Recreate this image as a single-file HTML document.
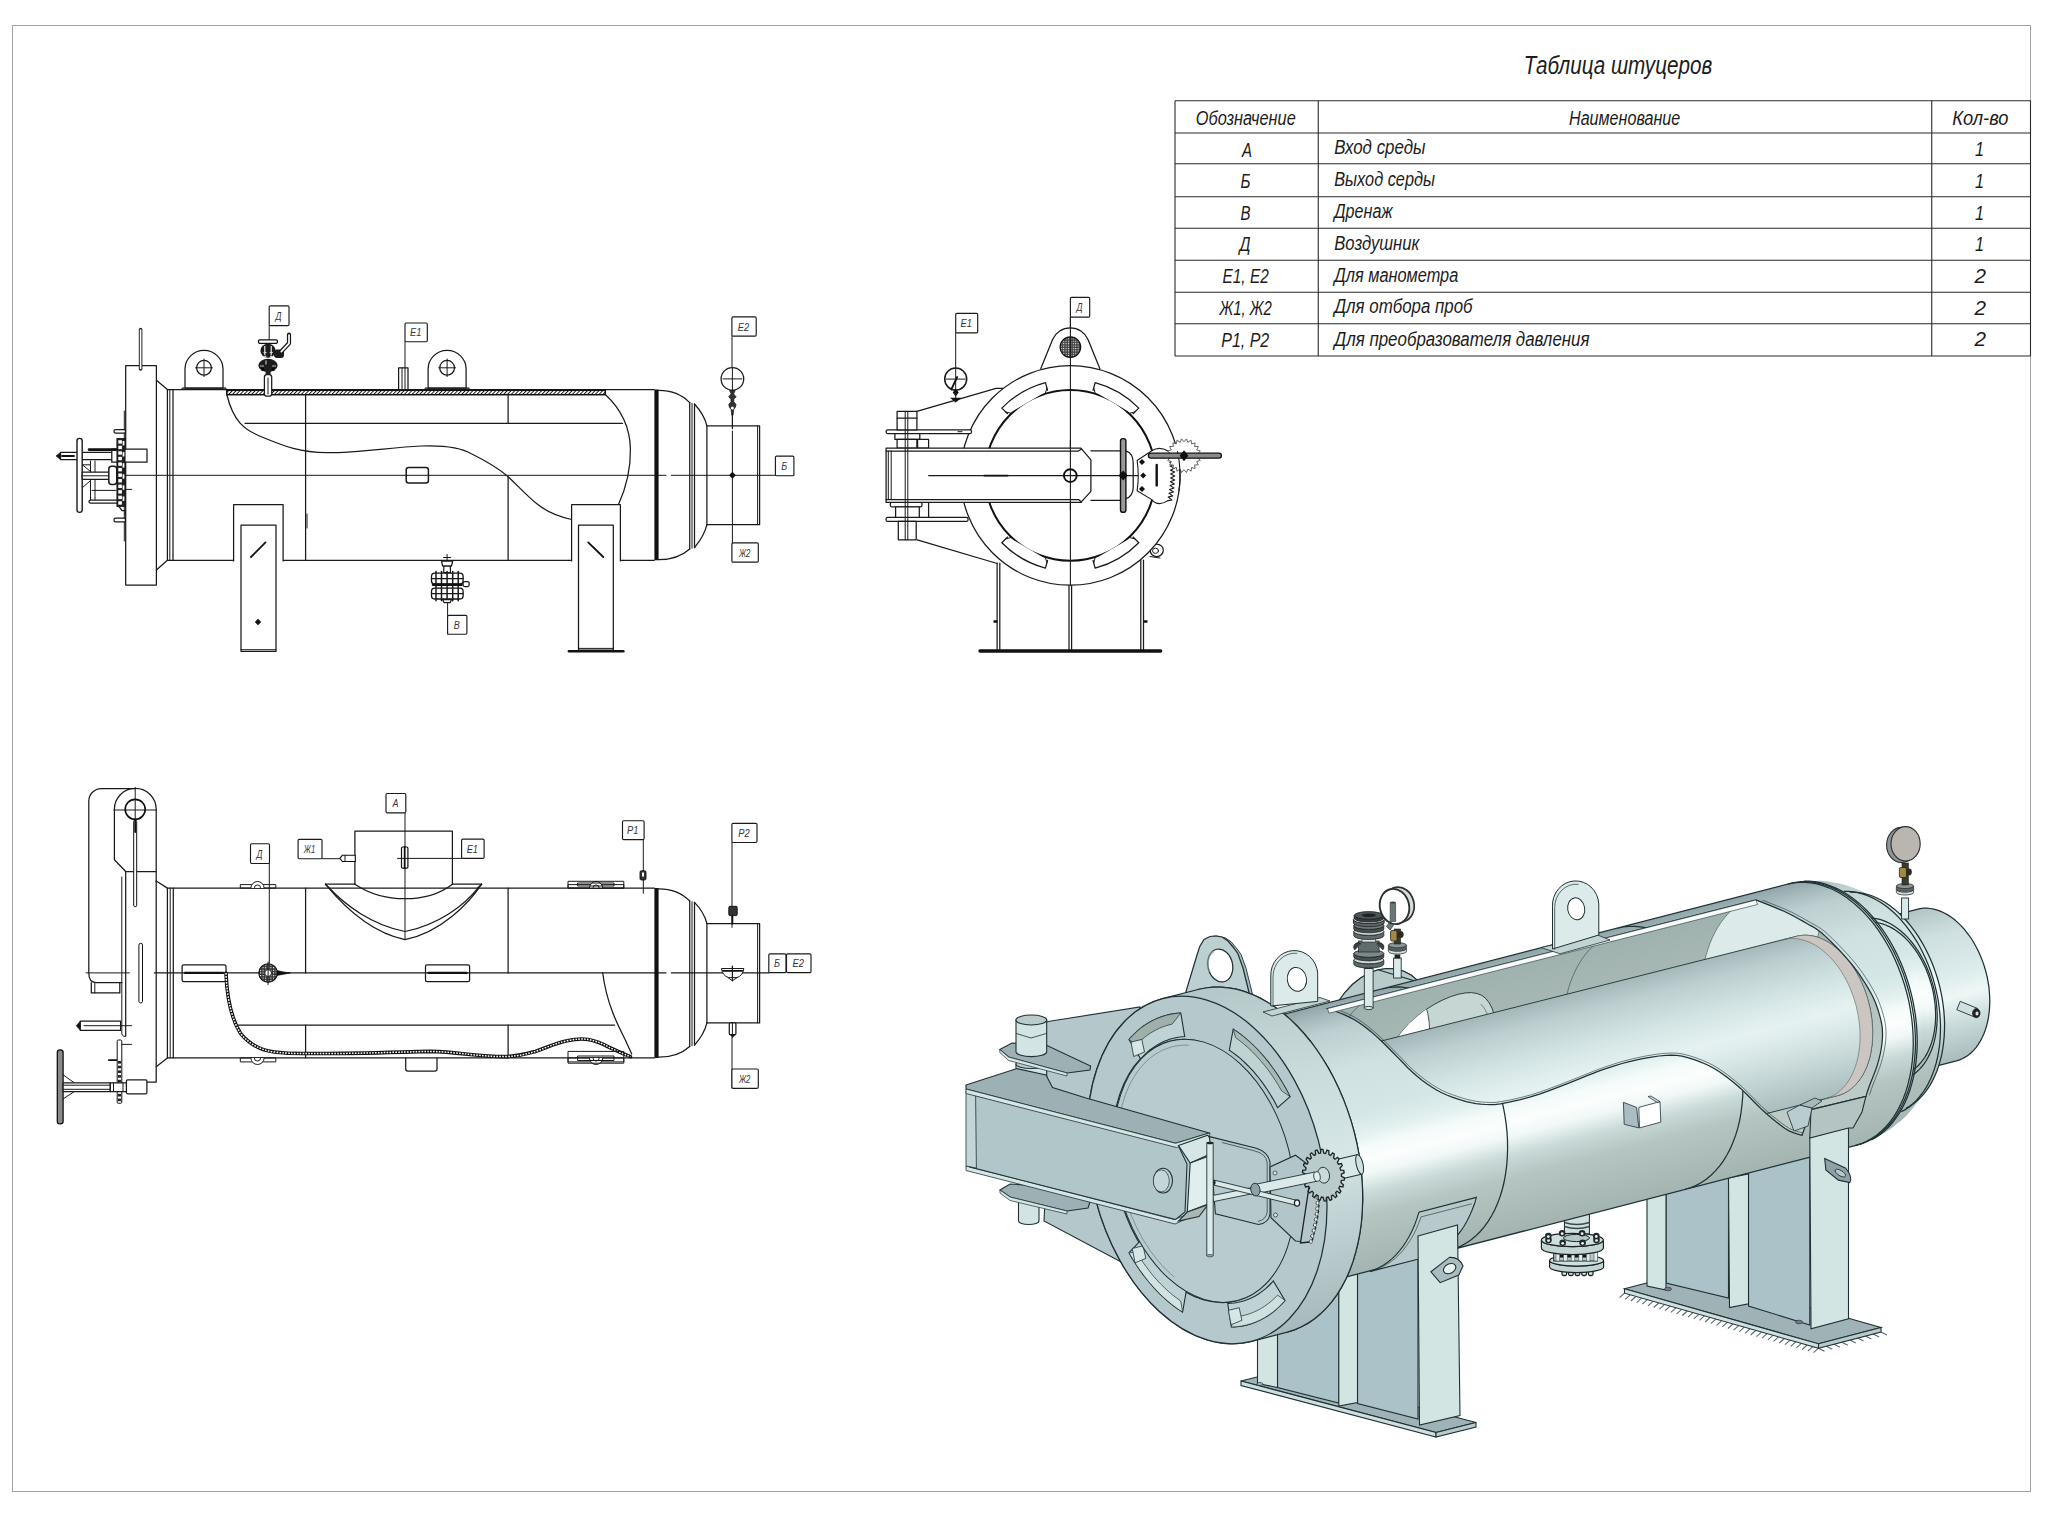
<!DOCTYPE html>
<html lang="ru"><head><meta charset="utf-8"><title>Таблица штуцеров</title>
<style>
html,body{margin:0;padding:0;background:#fff;}
body{width:2048px;height:1517px;overflow:hidden;font-family:"Liberation Sans",sans-serif;}
svg{position:absolute;left:0;top:0;display:block}
text{font-family:"Liberation Sans",sans-serif;font-style:italic;fill:#1c1c1c}
.l{fill:none;stroke:#1a1a1a;stroke-width:1.25;stroke-linecap:round;stroke-linejoin:round}
.t{fill:none;stroke:#1a1a1a;stroke-width:1.0;stroke-linecap:round;stroke-linejoin:round}
.k{fill:none;stroke:#111;stroke-width:1.8;stroke-linecap:round;stroke-linejoin:round}
.w{fill:#fff;stroke:#1a1a1a;stroke-width:1.25;stroke-linejoin:round}
.lb{fill:#fff;stroke:#1a1a1a;stroke-width:1.15}
.lt{font-size:11.8px;fill:#34343f}
</style></head><body>
<svg width="2048" height="1517" viewBox="0 0 2048 1517">
<!-- 00_frame.svg -->
<rect x="12.5" y="25.5" width="2018" height="1466" fill="none" stroke="#a3a3a3" stroke-width="1"/>
<!-- 10_table.svg -->
<g id="table">
<g fill="none" stroke="#2a2a2a" stroke-width="1.1">
<line x1="1175" y1="100.75" x2="2030.5" y2="100.75"/>
<line x1="1175" y1="133" x2="2030.5" y2="133"/>
<line x1="1175" y1="163.75" x2="2030.5" y2="163.75"/>
<line x1="1175" y1="196.75" x2="2030.5" y2="196.75"/>
<line x1="1175" y1="228.25" x2="2030.5" y2="228.25"/>
<line x1="1175" y1="260.25" x2="2030.5" y2="260.25"/>
<line x1="1175" y1="292.25" x2="2030.5" y2="292.25"/>
<line x1="1175" y1="323.75" x2="2030.5" y2="323.75"/>
<line x1="1175" y1="356" x2="2030.5" y2="356"/>
<line x1="1175" y1="100.75" x2="1175" y2="356"/>
<line x1="1318.25" y1="100.75" x2="1318.25" y2="356"/>
<line x1="1931.75" y1="100.75" x2="1931.75" y2="356"/>
<line x1="2030.5" y1="100.75" x2="2030.5" y2="356"/>
</g>
<text x="1523.75" y="73.75" font-size="25.5" textLength="188.5" lengthAdjust="spacingAndGlyphs">Таблица штуцеров</text>
<text x="1195.75" y="125.25" font-size="20" textLength="100" lengthAdjust="spacingAndGlyphs">Обозначение</text>
<text x="1569" y="125.25" font-size="20" textLength="111.25" lengthAdjust="spacingAndGlyphs">Наименование</text>
<text x="1952.25" y="125.25" font-size="20" textLength="56.25" lengthAdjust="spacingAndGlyphs">Кол-во</text>
<text x="1242" y="156.75" font-size="20" textLength="10" lengthAdjust="spacingAndGlyphs">А</text>
<text x="1240.5" y="188.25" font-size="20" textLength="10" lengthAdjust="spacingAndGlyphs">Б</text>
<text x="1240.5" y="220" font-size="20" textLength="10" lengthAdjust="spacingAndGlyphs">В</text>
<text x="1239.5" y="251" font-size="20" textLength="11" lengthAdjust="spacingAndGlyphs">Д</text>
<text x="1222.5" y="283" font-size="20" textLength="46.25" lengthAdjust="spacingAndGlyphs">Е1, Е2</text>
<text x="1219.5" y="315" font-size="20" textLength="52.25" lengthAdjust="spacingAndGlyphs">Ж1, Ж2</text>
<text x="1221.25" y="346.5" font-size="20" textLength="48" lengthAdjust="spacingAndGlyphs">Р1, Р2</text>
<text x="1334.25" y="154.25" font-size="20" textLength="91.25" lengthAdjust="spacingAndGlyphs">Вход среды</text>
<text x="1334.25" y="185.75" font-size="20" textLength="100.75" lengthAdjust="spacingAndGlyphs">Выход серды</text>
<text x="1334.25" y="218" font-size="20" textLength="58.25" lengthAdjust="spacingAndGlyphs">Дренаж</text>
<text x="1334.25" y="249.5" font-size="20" textLength="85" lengthAdjust="spacingAndGlyphs">Воздушник</text>
<text x="1334.25" y="281.75" font-size="20" textLength="124" lengthAdjust="spacingAndGlyphs">Для манометра</text>
<text x="1334.25" y="313.25" font-size="20" textLength="138.25" lengthAdjust="spacingAndGlyphs">Для отбора проб</text>
<text x="1334.25" y="345.75" font-size="20" textLength="255.25" lengthAdjust="spacingAndGlyphs">Для преобразователя давления</text>
<text x="1975" y="156.25" font-size="20" textLength="9" lengthAdjust="spacingAndGlyphs">1</text>
<text x="1975" y="188" font-size="20" textLength="9" lengthAdjust="spacingAndGlyphs">1</text>
<text x="1975" y="219.75" font-size="20" textLength="9" lengthAdjust="spacingAndGlyphs">1</text>
<text x="1975" y="251.25" font-size="20" textLength="9" lengthAdjust="spacingAndGlyphs">1</text>
<text x="1974.5" y="283" font-size="20" textLength="11.5" lengthAdjust="spacingAndGlyphs">2</text>
<text x="1974.5" y="314.75" font-size="20" textLength="11.5" lengthAdjust="spacingAndGlyphs">2</text>
<text x="1974.5" y="346.25" font-size="20" textLength="11.5" lengthAdjust="spacingAndGlyphs">2</text>
</g>
<!-- 20_front.svg -->
<g id="front">
<path class="t" d="M79 475.3 L666 475.3"/>
<path class="t" d="M671.4 475.3 L794 475.3"/>
<rect class="l" x="125.7" y="365.7" width="30.7" height="219.4" rx="0"/>
<path class="l" style="stroke-width:3.6;stroke:#222" d="M140.6 329.5 L140.6 369"/>
<path class="l" style="stroke-width:1.6;stroke:#fff" d="M140.6 330 L140.6 368.5"/>
<path class="l" d="M156.4 380.3 L167.4 389.6 L654.3 389.6"/>
<path class="l" d="M156.4 570 L167.4 560.3 L654.3 560.3"/>
<path class="l" d="M167.4 389.6 L167.4 560.3"/>
<path class="t" d="M169.8 389.6 L169.8 560.3"/>
<path class="l" d="M173 389.6 L173 560.3"/>
<path class="w" d="M185 388 V369 A19 18.6 0 0 1 223 369 V388 Z"/>
<path class="l" d="M182.5 388 L225.5 388"/>
<path class="t" d="M182.5 388 L181 389.6"/>
<path class="t" d="M225.5 388 L227 389.6"/>
<circle class="l" cx="204" cy="367.8" r="7.4"/>
<path class="t" d="M195.5 367.8 L212.5 367.8"/>
<path class="t" d="M204 359 L204 376.6"/>
<path class="w" d="M428.1 388 V369 A19 18.6 0 0 1 466.1 369 V388 Z"/>
<path class="l" d="M425.6 388 L468.6 388"/>
<path class="t" d="M425.6 388 L424.1 389.6"/>
<path class="t" d="M468.6 388 L470.1 389.6"/>
<circle class="l" cx="447.1" cy="367.8" r="7.4"/>
<path class="t" d="M438.6 367.8 L455.6 367.8"/>
<path class="t" d="M447.1 359 L447.1 376.6"/>
<defs><pattern id="hx" width="2.7" height="2.7" patternUnits="userSpaceOnUse" patternTransform="rotate(45)"><rect width="3" height="3" fill="#fff"/><line x1="0" y1="0" x2="0" y2="3" stroke="#111" stroke-width="1.9"/></pattern></defs>
<rect x="226.8" y="390.3" width="378.5" height="4.4" fill="url(#hx)" stroke="#111" stroke-width="1.5"/>
<path class="l" d="M226.8 394.5 C233 420 243 430 264.4 438 C285 446.5 300 452.5 327 452.7 C360 452.7 390 447.5 420.6 446 C445 445 460 447 471.4 453.8 C488 462 498 468 508.5 477 C520 488 528 497 537.8 504.6 C548 512.5 560 517 571.6 519.5"/>
<path class="l" d="M605.3 394.5 C622 410 630 428 630.4 448.8 C630.8 470 626 488 618.5 504.5"/>
<path class="l" d="M245 423.3 L622.5 423.3"/>
<path class="l" d="M305.6 394.5 L305.6 560.3"/>
<path class="l" d="M508.1 394.5 L508.1 423.3"/>
<path class="l" d="M508.1 477 L508.1 560.3"/>
<path class="t" d="M307 514 L307 528"/>
<path class="k" style="stroke-width:4.2;stroke-linecap:butt" d="M656.5 389.6 L656.5 560.3"/>
<path class="l" d="M658.6 390.3 C672 390.3 682 394.5 689.7 402.6 M658.6 559.7 C672 559.7 682 556 689.7 549"/>
<path class="l" d="M689.7 402.6 L689.7 549"/>
<path class="t" d="M692 403.4 L692 548.2"/>
<path class="l" d="M694.5 404 L694.5 547.6"/>
<path class="l" d="M694.5 404 C700 410 705 418 706.9 425.8 M694.5 547.6 C700 541 705 533 706.9 524.7"/>
<path class="l" d="M706.9 425.8 L706.9 524.7"/>
<path class="l" d="M706.9 425.8 L759.6 425.8 L759.6 524.7 L706.9 524.7"/>
<path class="t" d="M757.6 425.8 L757.6 524.7"/>
<path class="w" d="M233.6 561.6 V504.7 H283.1 V561.6"/>
<rect class="w" x="241" y="525.2" width="35" height="126.1"/>
<path class="t" d="M241 649.7 L276 649.7"/>
<path class="k" d="M251 557 L265.5 542.4"/>
<path class="w" d="M571.6 561.6 V504.7 H620.4 V561.6"/>
<rect class="w" x="578.5" y="525.2" width="34.8" height="124.8"/>
<path class="t" d="M578.5 648.4 L613.3 648.4"/>
<path class="k" d="M588.2 542.4 L603.3 557"/>
<path d="M258 618.8 l3.2 3.2 l-3.2 3.2 l-3.2 -3.2z" fill="#111"/>
<path class="k" style="stroke-width:2.6" d="M569 651.3 L623.3 651.3"/>
<rect class="l" style="stroke-width:1.5" x="406.2" y="467.5" width="22.2" height="15.6" rx="2.5"/>
<rect class="w" x="398.6" y="367.9" width="9.4" height="21.7" rx="0"/>
<path class="t" d="M402 368 L402 389.6"/>
<path class="t" d="M405 341.7 L405 389"/>
<rect class="lb" x="405" y="323" width="22.3" height="18.7" rx="1.2"/><text class="lt" x="409.95" y="336.35" textLength="11.4" lengthAdjust="spacingAndGlyphs">Е1</text>
<path class="t" d="M269.2 325.6 L269.2 340"/>
<rect class="lb" x="269.2" y="305.9" width="19.8" height="19.7" rx="1.2"/><text class="lt" x="275.6" y="319.75" textLength="6" lengthAdjust="spacingAndGlyphs">Д</text>
<rect class="w" x="264.4" y="374.7" width="7.3" height="21.5" rx="2.5"/>
<path class="t" d="M268 378 L268 394"/>
<rect x="258.5" y="339.9" width="18.9" height="3.4" rx="1.2" fill="#fff" stroke="#111" stroke-width="1.3"/>
<ellipse cx="268" cy="350.8" rx="7.6" ry="7" fill="#1c1c1c"/>
<rect x="274" y="349.5" width="10" height="8.4" rx="3" fill="#1c1c1c"/>
<path d="M264.8 346 v9 M271.2 346 v9" stroke="#fff" stroke-width="1.1" fill="none"/>
<path d="M263.5 352.5 h3 M269.7 352.5 h3 M264.3 356.3 h2 M270 356.3 h2" stroke="#ddd" stroke-width="1.2" fill="none"/>
<ellipse cx="268" cy="365.4" rx="9.6" ry="6.6" fill="#1c1c1c"/>
<path d="M266 360.5 v4 M260 366 h4 M272 366 h4" stroke="#bbb" stroke-width="1.2" fill="none"/>
<circle cx="262.6" cy="369.3" r="1.6" fill="#000"/><circle cx="273.4" cy="369.3" r="1.6" fill="#000"/>
<rect x="265.6" y="371" width="5" height="4" fill="#222"/>
<path class="l" style="stroke-width:4.2;stroke:#1a1a1a" d="M281.1 351.8 L289 343.3 L289 334.6"/>
<path class="l" style="stroke:#fff;stroke-width:1.7" d="M281.3 351.6 L289 343.3 L289 335"/>
<path class="t" d="M732 336.2 L732 367.5"/>
<rect class="lb" x="731.9" y="316.9" width="24.3" height="19.3" rx="1.2"/><text class="lt" x="737.85" y="330.55" textLength="11.4" lengthAdjust="spacingAndGlyphs">Е2</text>
<circle class="w" cx="732.4" cy="378.9" r="11.3"/>
<path class="t" d="M723 378.9 L742 378.9"/>
<path class="t" d="M732.4 368 L732.4 390"/>
<path d="M729.6 390.5 h5.6 l-1.6 3.4 l2.6 3 l-2.4 2 v3 l2.2 2.4 q0 3.4 -2.2 5 l-0.8 6 h-1.2 l-0.8 -6 q-2.2 -1.6 -2.2 -5 l2.2 -2.4 v-3 l-2.4 -2 l2.6 -3z" fill="#333" stroke="#111" stroke-width="0.7"/>
<circle cx="732.4" cy="408" r="1.5" fill="#fff"/>
<path class="l" d="M732.4 414 L732.4 428.5"/>
<path class="t" d="M732.4 431 L732.4 562"/>
<path d="M732.4 471.8 l3.4 3.5 l-3.4 3.5 l-3.4 -3.5z" fill="#111"/>
<rect class="lb" x="731.9" y="542.9" width="26.4" height="19.2" rx="1.2"/><text class="lt" x="738.9" y="556.5" textLength="11.4" lengthAdjust="spacingAndGlyphs">Ж2</text>
<rect class="lb" x="775.4" y="456.1" width="18.5" height="19.6" rx="1.2"/><text class="lt" x="781.15" y="469.9" textLength="6" lengthAdjust="spacingAndGlyphs">Б</text>
<path class="t" d="M447.1 554.4 L447.1 563"/>
<path class="t" d="M443.5 557.5 L450.7 557.5"/>
<path class="w" d="M441.5 561 H452.7 L451.5 566 H442.7Z"/>
<rect class="w" x="443.8" y="566" width="6.6" height="6.5" rx="0"/>
<rect x="431.5" y="573.2" width="31.6" height="10.8" rx="3.2" fill="#fff" stroke="#111" stroke-width="1.3"/>
<rect x="431.5" y="588.2" width="31.6" height="10.8" rx="3.2" fill="#fff" stroke="#111" stroke-width="1.3"/>
<path class="l" style="stroke-width:1.5" d="M436 571.5 L436 600.8"/>
<path class="l" style="stroke-width:1.5" d="M441.5 571.5 L441.5 600.8"/>
<path class="l" style="stroke-width:1.5" d="M447.1 571.5 L447.1 600.8"/>
<path class="l" style="stroke-width:1.5" d="M452.7 571.5 L452.7 600.8"/>
<path class="l" style="stroke-width:1.5" d="M458.2 571.5 L458.2 600.8"/>
<path class="l" d="M431.5 578.6 L463.1 578.6"/>
<path class="l" d="M431.5 593.6 L463.1 593.6"/>
<path class="k" style="stroke-width:2.4" d="M433 584.8 L461.6 584.8"/>
<rect class="w" x="463.1" y="581.5" width="6" height="5" rx="1.5"/>
<path class="w" d="M442.6 599.5 h9 l-1.5 3.2 h-6z"/>
<path class="t" d="M447.6 602.5 L447.6 634.2"/>
<rect class="lb" x="447.6" y="615.4" width="19.3" height="18.8" rx="1.2"/><text class="lt" x="453.75" y="628.8" textLength="6" lengthAdjust="spacingAndGlyphs">В</text>
<path class="t" d="M124.3 411 L124.3 541"/>
<rect class="w" x="114" y="429.6" width="11.5" height="3.6" rx="1.6"/>
<rect class="w" x="114" y="518.2" width="11.5" height="3.6" rx="1.6"/>
<path d="M56.1 455.9 L60.5 452.5 V459.5 Z" fill="#111" stroke="#111" stroke-width="0.8"/>
<rect class="w" x="60.5" y="452.4" width="52" height="7.2"/>
<rect class="w" x="111.8" y="449.2" width="35.2" height="13"/>
<path class="k" style="stroke-width:2.6" d="M89 449.6 L116 449.6"/>
<path class="k" d="M62 456 L74 456"/>
<rect class="w" x="77" y="438.4" width="5.2" height="74" rx="2.6" style="stroke-width:1.4"/>
<rect class="w" x="82.2" y="472.2" width="27" height="7.2"/>
<path class="t" d="M82.2 475.8 L109 475.8"/>
<rect class="w" x="108.8" y="466.3" width="8" height="18.3" rx="3" style="stroke-width:1.5"/>
<path class="t" d="M82.5 464.8 L90.5 471.6 L90.5 464.8 L82.5 464.8"/>
<path class="t" d="M82.5 487.5 L90.5 480.6"/>
<path class="t" d="M90.5 461 L90.5 472"/>
<path class="t" d="M95 461 L95 472"/>
<path class="t" d="M90.5 479.6 L90.5 501"/>
<path class="t" d="M95 479.6 L95 501"/>
<path class="t" d="M92 490.4 L116 490.4"/>
<rect class="w" x="89" y="500" width="30" height="3" rx="1.4"/>
<path class="t" d="M126.4 489.4 L131.5 489.4"/>
<rect x="116.9" y="438.4" width="8.2" height="68" fill="#222" stroke="#111" stroke-width="0.8"/>
<rect x="118.3" y="440.2" width="3.6" height="3.4" fill="#fff"/>
<rect x="122.6" y="441" width="1.8" height="4.4" fill="#fff"/>
<rect x="118.3" y="445.75" width="3.6" height="3.4" fill="#fff"/>
<rect x="118.3" y="451.3" width="3.6" height="3.4" fill="#fff"/>
<rect x="122.6" y="452.1" width="1.8" height="4.4" fill="#fff"/>
<rect x="118.3" y="456.85" width="3.6" height="3.4" fill="#fff"/>
<rect x="118.3" y="462.4" width="3.6" height="3.4" fill="#fff"/>
<rect x="122.6" y="463.2" width="1.8" height="4.4" fill="#fff"/>
<rect x="118.3" y="467.95" width="3.6" height="3.4" fill="#fff"/>
<rect x="118.3" y="473.5" width="3.6" height="3.4" fill="#fff"/>
<rect x="122.6" y="474.3" width="1.8" height="4.4" fill="#fff"/>
<rect x="118.3" y="479.05" width="3.6" height="3.4" fill="#fff"/>
<rect x="118.3" y="484.6" width="3.6" height="3.4" fill="#fff"/>
<rect x="122.6" y="485.4" width="1.8" height="4.4" fill="#fff"/>
<rect x="118.3" y="490.15" width="3.6" height="3.4" fill="#fff"/>
<rect x="118.3" y="495.7" width="3.6" height="3.4" fill="#fff"/>
<rect x="122.6" y="496.5" width="1.8" height="4.4" fill="#fff"/>
<rect x="118.3" y="501.25" width="3.6" height="3.4" fill="#fff"/>
<path class="l" d="M119 506.5 l3 4 h3.2 v4"/>
</g>
<!-- 30_side.svg -->
<g id="side">
<path class="l" d="M997.1 563 L997.1 649.3"/>
<path class="l" d="M999.8 563 L999.8 649.3"/>
<path class="l" d="M1069 585 L1069 649.3"/>
<path class="l" d="M1071.6 585 L1071.6 649.3"/>
<path class="l" d="M1140.8 560 L1140.8 649.3"/>
<path class="l" d="M1143.5 560 L1143.5 649.3"/>
<path class="k" style="stroke-width:3.4" d="M980 651 L1160.6 651"/>
<path d="M993.5 621.5 h4 M1143.5 621.5 h4" stroke="#111" stroke-width="2.6" fill="none"/>
<path class="l" d="M916.9 411.3 L996 388.4 L1003 388.4"/>
<path class="l" d="M917.2 539.8 L997.2 563.5"/>
<ellipse class="w" cx="1156.7" cy="550.3" rx="6.6" ry="6.2"/><ellipse class="t" cx="1155.5" cy="550.8" rx="3" ry="2.6"/>
<path class="t" d="M1150 556.5 L1160 558"/>
<path class="w" d="M1040.6 369.1 L1052.6 339.5 A19.3 19.3 0 0 1 1088 339.5 L1100 369.1"/>
<defs><pattern id="hx2" width="2.4" height="2.4" patternUnits="userSpaceOnUse"><rect width="2.4" height="2.4" fill="#444"/><rect width="1" height="1" fill="#fff"/></pattern></defs>
<circle cx="1070.4" cy="347.1" r="10.3" fill="url(#hx2)" stroke="#111" stroke-width="1.2"/>
<circle class="w" cx="1070.3" cy="475.4" r="109.8"/>
<circle class="k" cx="1070.3" cy="475.4" r="85.4" style="stroke-width:2"/>
<path class="w" d="M1132.78 414 L1138.77 408.113 A96 96 0 0 0 1095.15 382.671 L1092.97 390.785" style="stroke-linejoin:round"/>
<path class="t" d="M1134.85 411.968 L1129.72 413.225"/>
<path class="t" d="M1093.72 387.984 L1095.16 393.071"/>
<path class="w" d="M1047.63 390.785 L1045.45 382.671 A96 96 0 0 0 1001.83 408.113 L1007.82 414" style="stroke-linejoin:round"/>
<path class="t" d="M1046.88 387.984 L1045.44 393.071"/>
<path class="t" d="M1005.75 411.968 L1010.88 413.225"/>
<path class="w" d="M1007.82 536.8 L1001.83 542.687 A96 96 0 0 0 1045.45 568.129 L1047.63 560.015" style="stroke-linejoin:round"/>
<path class="t" d="M1005.75 538.832 L1010.88 537.575"/>
<path class="t" d="M1046.88 562.816 L1045.44 557.729"/>
<path class="w" d="M1092.97 560.015 L1095.15 568.129 A96 96 0 0 0 1138.77 542.687 L1132.78 536.8" style="stroke-linejoin:round"/>
<path class="t" d="M1093.72 562.816 L1095.16 557.729"/>
<path class="t" d="M1134.85 538.832 L1129.72 537.575"/>
<path class="l" style="stroke-width:1.1" d="M1070.4 317 L1070.4 585"/>
<rect class="w" x="886.1" y="429.9" width="85.4" height="3.6" rx="1.5"/>
<path class="t" d="M958 431.7 L962 431.7"/>
<rect class="w" x="886.1" y="517.4" width="81.9" height="4" rx="1.5"/>
<rect class="w" x="897.1" y="411.3" width="19.8" height="18.6" rx="0"/>
<path class="l" d="M897.1 418.2 L916.9 418.2"/>
<rect class="w" x="894.9" y="433.5" width="24.9" height="5.9" rx="0"/>
<rect class="w" x="897.1" y="439.4" width="19.8" height="8.8" rx="0"/>
<rect class="w" x="917.6" y="439.4" width="11" height="8.8" rx="0"/>
<rect class="w" x="890.3" y="502.4" width="31.7" height="4.4" rx="1.5"/>
<rect class="w" x="895.6" y="506.8" width="23.7" height="10.6" rx="0"/>
<rect class="w" x="898.3" y="521.4" width="17.9" height="18.4" rx="0"/>
<path class="l" d="M928.6 503 L928.6 517.4"/>
<path class="w" d="M886.1 448.2 H1080.9 L1090.9 459.9 V491.4 L1080.9 502.4 H886.1 Z"/>
<path class="l" d="M886.1 451.1 L1078.5 451.1 L1081.5 449"/>
<path class="l" d="M886.1 499.5 L1078.5 499.5 L1081.5 502"/>
<path class="t" d="M888.3 451.1 L888.3 499.5"/>
<path class="t" d="M891.2 451.1 L891.2 499.5"/>
<path class="t" d="M905.2 411.3 L905.2 539.8"/>
<path class="t" d="M907.8 411.3 L907.8 539.8"/>
<path class="l" style="stroke-width:1.1" d="M1070.4 440 L1070.4 510"/>
<path class="l" style="stroke-width:1.1" d="M928.6 475.6 L1156 475.6"/>
<path class="k" d="M984.3 475.6 L1007.7 475.6"/>
<circle class="k" cx="1070.3" cy="475.6" r="6.4" style="stroke-width:1.9"/>
<path class="l" d="M1090.9 450.8 L1120.5 450.8"/>
<path class="l" d="M1090.9 500.3 L1120.5 500.3"/>
<path class="l" d="M1125.9 450.8 C1131 452.5 1133.2 458 1133.2 463 V487 C1133.2 492 1131 497 1125.9 498.6"/>
<rect x="1120.5" y="438.6" width="5.4" height="73.7" rx="2.4" fill="#999" stroke="#111" stroke-width="1.4"/>
<path d="M1123.2 470.6 l4.6 5 l-4.6 5 l-4.6 -5z" fill="#111"/>
<path class="w" d="M1137.1 460.5 L1151.8 450.8 Q1160 445.5 1169.4 451.8 L1169.2 458.7 L1173.6 459.9 L1169.8 462.5 L1174.1 463.9 L1170.2 466.3 L1174.5 467.9 L1170.5 470.2 L1174.7 471.9 L1170.6 474.1 L1174.8 475.9 L1170.6 477.9 L1174.7 480.0 L1170.4 481.8 L1174.4 484.0 L1170.1 485.6 L1174.0 488.0 L1169.6 489.5 L1173.5 492.0 L1169.0 493.3 L1172.7 495.9 L1168.2 497.1 L1171.9 499.9 L1167.3 500.9 Q1158 507 1151.8 499.6 L1137.1 490.8 Q1139.4 475.6 1137.1 460.5 Z" style="stroke-width:1.1"/>
<path d="M1142 459 l3 3 l-3 3 l-3 -3z" fill="#111"/>
<path d="M1143.2 472.6 l3 3 l-3 3 l-3 -3z" fill="#111"/>
<path d="M1142 485.9 l3 3 l-3 3 l-3 -3z" fill="#111"/>
<path class="k" style="stroke-width:2.4" d="M1156.7 465 L1156.7 485.4"/>
<path d="M1201.0 455.7 L1197.9 457.7 L1200.3 460.5 L1196.7 461.5 L1198.3 464.9 L1194.6 464.9 L1195.1 468.5 L1191.6 467.5 L1191.1 471.2 L1187.9 469.1 L1186.4 472.5 L1184.0 469.7 L1181.6 472.5 L1180.1 469.1 L1176.9 471.2 L1176.4 467.5 L1172.9 468.5 L1173.4 464.9 L1169.7 464.9 L1171.3 461.5 L1167.7 460.5 L1170.1 457.7 L1167.0 455.7 L1170.1 453.7 L1167.7 450.9 L1171.3 449.9 L1169.7 446.5 L1173.4 446.5 L1172.9 442.9 L1176.4 443.9 L1176.9 440.2 L1180.1 442.3 L1181.6 438.9 L1184.0 441.7 L1186.4 438.9 L1187.9 442.3 L1191.1 440.2 L1191.6 443.9 L1195.1 442.9 L1194.6 446.5 L1198.3 446.5 L1196.7 449.9 L1200.3 450.9 L1197.9 453.7 Z" fill="#fff" stroke="#555" stroke-width="0.9" stroke-linejoin="round"/>
<path class="l" d="M1177.5 451.635 A109.8 109.8 0 0 1 1179.03 490.681" style="stroke-width:1.1"/>
<rect x="1148.4" y="453.2" width="73" height="5" rx="2.4" fill="#8a8a8a" stroke="#111" stroke-width="1.3"/>
<path d="M1184 450.2 l4.4 5.5 l-4.4 5.5 l-4.4 -5.5z" fill="#111"/>
<path class="t" d="M955.7 332.9 L955.7 401"/>
<rect class="lb" x="955.7" y="313.4" width="22" height="19.5" rx="1.2"/><text class="lt" x="960.5" y="327.15" textLength="11.4" lengthAdjust="spacingAndGlyphs">Е1</text>
<circle class="l" cx="955.7" cy="379.1" r="11" style="stroke-width:1.5"/>
<path class="t" d="M946 379.1 L965.4 379.1"/>
<path class="k" d="M951.3 389.5 L957.2 377"/>
<path d="M955.7 388.5 l3 4 l-3 4 l-3 -4z M950 397.8 h11.4 l-5.7 4.8z" fill="#111"/>
<path class="t" d="M1070.4 317 L1070.4 328"/>
<rect class="lb" x="1070.4" y="297.3" width="19.3" height="19.8" rx="1.2"/><text class="lt" x="1076.55" y="311.2" textLength="6" lengthAdjust="spacingAndGlyphs">Д</text>
</g>
<!-- 40_plan.svg -->
<g id="plan">
<path class="t" d="M86.1 972.9 L129.4 972.9"/>
<path class="l" style="stroke-width:1.1" d="M154.3 972.9 L666 972.9"/>
<path class="l" style="stroke-width:1.1" d="M671.4 972.9 L769 972.9"/>
<path class="l" d="M135.2 788.6 H101.3 A12.5 12.5 0 0 0 88.8 801.1 V973 Q88.8 982.5 96 982.5 H122"/>
<path class="l" d="M91.3 982.5 L91.3 992.9 L119.8 992.9 L119.8 982.5"/>
<path class="t" d="M94.8 982.5 L94.8 992.9"/>
<path class="l" d="M114.4 809.3 A20.9 20.9 0 0 1 156.2 809.3 V881 M114.4 809.3 V859.8 L125.7 871.5 H155.7"/>
<path class="t" d="M114 810 L156.6 810"/>
<path class="t" d="M135.2 787.5 L135.2 822"/>
<circle class="k" cx="135.2" cy="809.3" r="10" style="stroke-width:1.7"/>
<rect x="133.7" y="820" width="3" height="86.7" rx="1.5" fill="#fff" stroke="#111" stroke-width="1"/>
<path class="k" d="M135.2 820 L135.2 832"/>
<rect x="138.9" y="943.3" width="3.6" height="59.7" rx="1.8" fill="#fff" stroke="#111" stroke-width="1"/>
<path class="l" d="M125.7 871.5 L125.7 1036"/>
<path class="t" d="M121.8 877 L121.8 1034 L123.7 1036.5 L125.7 1036"/>
<path class="l" d="M156.2 881 L156.2 1082.1 L146.9 1082.1"/>
<path class="l" d="M156.2 881 L167.4 888.1 L654.3 888.1"/>
<path class="l" d="M156.2 1066.7 L167.4 1057.9 L654.3 1057.9"/>
<path class="l" d="M167.4 888.1 L167.4 1057.9"/>
<path class="t" d="M170.2 888.1 L170.2 1057.9"/>
<path class="l" d="M173.3 888.1 L173.3 1057.9"/>
<path d="M76.3 1025.7 L80.3 1021.3 V1030.1 Z" fill="#111" stroke="#111" stroke-width="0.8"/>
<rect class="w" x="80.3" y="1021" width="40.3" height="9.4" rx="0"/>
<path class="t" d="M84 1025.7 L131.5 1025.7"/>
<path class="t" d="M121.3 1044.4 L131.5 1044.4"/>
<path class="k" d="M108.8 1060.1 L119.1 1060.1"/>
<rect x="117.2" y="1040" width="4.6" height="63.3" rx="1.2" fill="#fff" stroke="#111" stroke-width="1"/>
<rect x="118" y="1061" width="3" height="2.6" fill="#222"/>
<rect x="118" y="1065.7" width="3" height="2.6" fill="#222"/>
<rect x="118" y="1070.4" width="3" height="2.6" fill="#222"/>
<rect x="118" y="1075.1" width="3" height="2.6" fill="#222"/>
<rect x="118" y="1079.8" width="3" height="2.6" fill="#222"/>
<rect x="118" y="1084.5" width="3" height="2.6" fill="#222"/>
<rect x="118" y="1089.2" width="3" height="2.6" fill="#222"/>
<rect x="118" y="1093.9" width="3" height="2.6" fill="#222"/>
<rect x="118" y="1098.6" width="3" height="2.6" fill="#222"/>
<rect class="w" x="126.4" y="1079.9" width="20.5" height="13.9" rx="1.2"/>
<rect x="57.3" y="1049.9" width="5.8" height="73.9" rx="2.6" fill="#8a8a8a" stroke="#111" stroke-width="1.3"/>
<path class="t" d="M63.1 1074.8 L73.7 1082.4"/>
<path class="t" d="M63.1 1098.9 L73.7 1092"/>
<rect class="w" x="63.1" y="1082.8" width="47.2" height="8.8" rx="0"/>
<path class="t" d="M63.1 1085.2 L110.3 1085.2"/>
<path class="t" d="M63.1 1089.3 L110.3 1089.3"/>
<rect class="w" x="110.3" y="1082.8" width="16.1" height="8.8" rx="0"/>
<path class="t" d="M113.5 1082.8 L113.5 1091.6"/>
<path class="t" d="M123 1082.8 L123 1091.6"/>
<rect class="l" x="182.1" y="964.9" width="43.9" height="16.8" rx="1.6"/>
<path class="k" style="stroke-width:2.2" d="M185.1 972.9 L223 972.9"/>
<rect class="l" x="425.5" y="964.9" width="44.1" height="16.8" rx="1.6"/>
<path class="k" style="stroke-width:2.2" d="M428.5 972.9 L466.6 972.9"/>
<path class="l" d="M305.6 888.1 L305.6 972.9"/>
<path class="l" d="M305.6 1025 L305.6 1057.9"/>
<path class="l" d="M508.1 888.1 L508.1 972.9"/>
<path class="l" d="M508.1 1025 L508.1 1057.9"/>
<path class="l" d="M236.3 1025 L614.6 1025"/>
<path d="M226 973 C227 1000 232 1020 240.7 1033.7 C250 1045 262 1050.5 274.4 1052 C290 1053.8 300 1053.5 305.6 1053.5 C350 1054 400 1052 430 1051.4 C460 1052 480 1057 506.5 1056.6 C520 1056 528 1053.5 535.5 1051.4 C548 1047 556 1043 567.1 1040.8 C575 1039 582 1038.6 588.2 1039.5 C597 1041 603 1044 609.3 1047.4 C617 1051 624 1054.5 630.4 1056.6" fill="none" stroke="#111" stroke-width="3.6" stroke-linecap="round"/>
<path d="M226 973 C227 1000 232 1020 240.7 1033.7 C250 1045 262 1050.5 274.4 1052 C290 1053.8 300 1053.5 305.6 1053.5 C350 1054 400 1052 430 1051.4 C460 1052 480 1057 506.5 1056.6 C520 1056 528 1053.5 535.5 1051.4 C548 1047 556 1043 567.1 1040.8 C575 1039 582 1038.6 588.2 1039.5 C597 1041 603 1044 609.3 1047.4 C617 1051 624 1054.5 630.4 1056.6" fill="none" stroke="#fff" stroke-width="1.5" stroke-dasharray="1.6 1.3"/>
<path class="l" d="M602.7 973 C605 990 608 1000 612 1010.5 C616 1022 621 1031 625.1 1039.5 C628 1046 630 1050 631.7 1054"/>
<path class="k" style="stroke-width:4.2;stroke-linecap:butt" d="M656.5 888.1 L656.5 1057.9"/>
<path class="l" d="M658.6 888.8 C672 888.8 682 893 689.7 901 M658.6 1057.2 C672 1057.2 682 1053.5 689.7 1046.5"/>
<path class="l" d="M689.7 901 L689.7 1046.5"/>
<path class="t" d="M692 901.8 L692 1045.7"/>
<path class="l" d="M694.5 902.4 L694.5 1045.1"/>
<path class="l" d="M694.5 902.4 C700 908 705 916 706.9 923.5 M694.5 1045.1 C700 1039 705 1031 706.9 1022.9"/>
<path class="l" d="M706.9 923.5 L706.9 1022.9"/>
<path class="l" d="M706.9 923.5 L759.6 923.5 L759.6 1022.9 L706.9 1022.9"/>
<path class="t" d="M757.6 923.5 L757.6 1022.9"/>
<path class="l" d="M354.9 884 L354.9 831.2 L452.4 831.2 L452.4 884"/>
<path class="l" d="M325.4 884.2 H354.9 M452.4 884.2 H481.6"/>
<path class="l" d="M325.4 884.2 C340 902 368 932 405 939.7 C442 932 470 902 481.6 884.2"/>
<path class="l" d="M329 887.8 C345 905 372 925 405 931.5 C438 925 465 905 478 887.8"/>
<path class="l" d="M354.9 884.2 C368 893 385 898.7 405 898.7 C425 898.7 441 893 452.4 884.2"/>
<path class="l" d="M325.4 884.2 L329 887.8"/>
<path class="l" d="M481.6 884.2 L478 887.8"/>
<path class="t" d="M405 812.8 L405 939.4"/>
<rect class="lb" x="386" y="793.5" width="19.8" height="19.3" rx="1.2"/><text class="lt" x="392.4" y="807.15" textLength="6" lengthAdjust="spacingAndGlyphs">А</text>
<rect x="401.5" y="847" width="6.4" height="21.2" rx="1.2" fill="#fff" stroke="#111" stroke-width="1.2"/>
<path class="k" d="M404.7 847 L404.7 868"/>
<path class="t" d="M397.5 858.4 L461.6 858.4"/>
<rect class="lb" x="461.6" y="839.1" width="22.5" height="19.3" rx="1.2"/><text class="lt" x="466.65" y="852.75" textLength="11.4" lengthAdjust="spacingAndGlyphs">Е1</text>
<rect class="lb" x="298.1" y="839.3" width="23.9" height="19.4" rx="1.2"/><text class="lt" x="303.85" y="853" textLength="11.4" lengthAdjust="spacingAndGlyphs">Ж1</text>
<path class="t" d="M322 858.7 L341 858.7"/>
<path d="M339.9 858.3 l2.4 -3 h13 v6.2 h-13z" fill="#fff" stroke="#111" stroke-width="1.1"/>
<path class="t" d="M345 855.3 L345 861.5"/>
<rect class="lb" x="250.5" y="843.7" width="19" height="19.8" rx="1.2"/><text class="lt" x="256.5" y="857.6" textLength="6" lengthAdjust="spacingAndGlyphs">Д</text>
<path class="t" d="M269.3 863.5 L269.3 963.5"/>
<defs><pattern id="hx3" width="2.6" height="2.6" patternUnits="userSpaceOnUse"><rect width="2.6" height="2.6" fill="#333"/><rect width="1.1" height="1.1" fill="#fff"/></pattern></defs>
<circle cx="268.1" cy="973" r="9.3" fill="url(#hx3)" stroke="#111" stroke-width="1.1"/>
<circle cx="268.1" cy="973" r="3.4" fill="#fff" stroke="#111" stroke-width="0.9"/>
<path class="t" d="M268.1 962 L268.1 984.5"/>
<path d="M277 970.5 L284 972 L290.5 973 L284 974.2 L277 975.5Z" fill="#111" stroke="#111" stroke-width="0.6"/>
<rect class="t" x="240.7" y="884.6" width="35.1" height="3.5" rx="0"/>
<path class="w" d="M250.9 888.1 A6.6 6.6 0 0 1 264.1 888.1" style="stroke-width:1"/>
<path class="t" d="M254.3 888.1 A3.2 3.2 0 0 1 260.7 888.1"/>
<rect class="t" x="240.7" y="1057.9" width="35.1" height="4" rx="0"/>
<path class="w" d="M250.9 1057.9 A6.6 6.6 0 0 0 264.1 1057.9" style="stroke-width:1"/>
<path class="t" d="M254.3 1057.9 A3.2 3.2 0 0 0 260.7 1057.9"/>
<rect class="t" x="568.4" y="884.6" width="55.4" height="3.5" rx="0"/>
<path class="w" d="M589.5 888.1 A6.6 6.6 0 0 1 602.7 888.1" style="stroke-width:1"/>
<path class="t" d="M592.9 888.1 A3.2 3.2 0 0 1 599.3 888.1"/>
<rect class="t" x="568.4" y="1057.9" width="55.4" height="4" rx="0"/>
<path class="w" d="M589.5 1057.9 A6.6 6.6 0 0 0 602.7 1057.9" style="stroke-width:1"/>
<path class="t" d="M592.9 1057.9 A3.2 3.2 0 0 0 599.3 1057.9"/>
<rect class="l" style="stroke-width:1" x="568.4" y="1051.4" width="55.4" height="11.8" rx="0"/>
<rect class="t" x="578" y="1056" width="36" height="4.5" rx="0"/>
<rect class="l" style="stroke-width:1" x="568.4" y="881.3" width="55.4" height="6.8" rx="0"/>
<rect class="t" x="578" y="883" width="36" height="3" rx="0"/>
<path class="l" d="M405.7 1058 V1069 Q405.7 1071.1 408 1071.1 H435 Q437 1071.1 437 1069 V1058"/>
<rect class="lb" x="622.5" y="820.7" width="21.6" height="18.9" rx="1.2"/><text class="lt" x="627.1" y="834.15" textLength="11.4" lengthAdjust="spacingAndGlyphs">Р1</text>
<path class="t" d="M643.3 839.6 L643.3 893.2"/>
<rect x="640" y="870.8" width="6" height="9.2" rx="1.4" fill="#333" stroke="#111" stroke-width="0.9"/>
<rect x="642" y="872.5" width="2" height="4" fill="#fff"/>
<rect class="lb" x="731.9" y="823.3" width="25.1" height="19.2" rx="1.2"/><text class="lt" x="738.25" y="836.9" textLength="11.4" lengthAdjust="spacingAndGlyphs">Р2</text>
<path class="t" d="M732 842.5 L732 927.4"/>
<rect x="728.8" y="906.3" width="8.4" height="9.3" rx="1.2" fill="#333" stroke="#111" stroke-width="0.9"/>
<path class="k" d="M732.4 915.6 L732.4 923.5"/>
<rect class="lb" x="768.8" y="953.8" width="17.2" height="18.8" rx="1.2"/><text class="lt" x="773.9" y="967.2" textLength="6" lengthAdjust="spacingAndGlyphs">Б</text>
<rect class="lb" x="786.5" y="953.8" width="24.5" height="18.8" rx="1.2"/><text class="lt" x="792.55" y="967.2" textLength="11.4" lengthAdjust="spacingAndGlyphs">Е2</text>
<path class="w" d="M721.4 968.5 H743.8 Q743 975.5 737 977.6 H728.4 Q722.5 975.5 721.4 968.5Z" style="stroke-width:1"/>
<path class="k" d="M723 970.8 L742.4 970.8"/>
<path class="l" d="M732.4 966 L732.4 980.5"/>
<path class="t" d="M728 977.6 L732.4 980.8 L737 977.6"/>
<rect class="w" x="729.3" y="1022.9" width="6.6" height="12" rx="1.2"/>
<path d="M729.6 1034 l3 4 l3 -4z" fill="#111"/>
<path class="t" d="M732.4 1022.9 L732.4 1036"/>
<path class="t" d="M732 1037 L732 1088.3"/>
<rect class="lb" x="731.9" y="1069" width="26.4" height="19.3" rx="1.2"/><text class="lt" x="738.9" y="1082.65" textLength="11.4" lengthAdjust="spacingAndGlyphs">Ж2</text>
</g>
<!-- 50_iso.svg -->
<g id="iso">
<defs><linearGradient id="gShell" gradientUnits="userSpaceOnUse" x1="1463.7" y1="967.8" x2="1531.2" y2="1229.2"><stop offset="0" stop-color="#90a5a9"/><stop offset="0.045" stop-color="#a6babc"/><stop offset="0.1" stop-color="#bccecf"/><stop offset="0.25" stop-color="#cfe1e1"/><stop offset="0.42" stop-color="#d4e6e6"/><stop offset="0.5" stop-color="#e2f0ef"/><stop offset="0.55" stop-color="#f4fbfa"/><stop offset="0.6" stop-color="#fbfefd"/><stop offset="0.65" stop-color="#f0f8f7"/><stop offset="0.72" stop-color="#c8d9d7"/><stop offset="0.8" stop-color="#b4c5c2"/><stop offset="1" stop-color="#a3b4b1"/></linearGradient>
<linearGradient id="gTube" gradientUnits="userSpaceOnUse" x1="1476.8" y1="1018.8" x2="1518.0" y2="1178.2"><stop offset="0" stop-color="#a6b9ba"/><stop offset="0.12" stop-color="#bccecf"/><stop offset="0.32" stop-color="#d3e4e4"/><stop offset="0.5" stop-color="#e6f2f1"/><stop offset="0.6" stop-color="#dcebea"/><stop offset="0.8" stop-color="#c4d5d5"/><stop offset="1" stop-color="#aabcbd"/></linearGradient>
<linearGradient id="gIn" gradientUnits="userSpaceOnUse" x1="1463.7" y1="967.8" x2="1531.2" y2="1229.2"><stop offset="0" stop-color="#9eb0ad"/><stop offset="0.25" stop-color="#a9bab6"/><stop offset="0.6" stop-color="#b7c6c2"/><stop offset="1" stop-color="#c2d0cc"/></linearGradient>
<linearGradient id="gNoz" gradientUnits="userSpaceOnUse" x1="1894.1" y1="915.2" x2="1933.2" y2="1066.8"><stop offset="0" stop-color="#b2c5c6"/><stop offset="0.2" stop-color="#cfe0e0"/><stop offset="0.45" stop-color="#dcebeb"/><stop offset="0.6" stop-color="#eef7f6"/><stop offset="0.75" stop-color="#cddede"/><stop offset="1" stop-color="#a9bbbc"/></linearGradient>
<linearGradient id="gHead" gradientUnits="userSpaceOnUse" x1="1812.1" y1="877.8" x2="1879.6" y2="1139.2"><stop offset="0" stop-color="#90a5a9"/><stop offset="0.045" stop-color="#a6babc"/><stop offset="0.1" stop-color="#bccecf"/><stop offset="0.25" stop-color="#cfe1e1"/><stop offset="0.42" stop-color="#d4e6e6"/><stop offset="0.5" stop-color="#e2f0ef"/><stop offset="0.55" stop-color="#f4fbfa"/><stop offset="0.6" stop-color="#fbfefd"/><stop offset="0.65" stop-color="#f0f8f7"/><stop offset="0.72" stop-color="#c8d9d7"/><stop offset="0.8" stop-color="#b4c5c2"/><stop offset="1" stop-color="#a3b4b1"/></linearGradient>
<linearGradient id="gFl" gradientUnits="userSpaceOnUse" x1="1182.1" y1="993.7" x2="1270.6" y2="1336.3"><stop offset="0" stop-color="#b4c7c8"/><stop offset="0.3" stop-color="#c9dbdb"/><stop offset="0.55" stop-color="#d6e6e6"/><stop offset="0.7" stop-color="#c3d5d6"/><stop offset="1" stop-color="#a7b9bb"/></linearGradient>
<clipPath id="cShell"><path d="M1221.5 1030.3 L1216.0 1032.1 L1210.7 1034.3 L1205.5 1037.2 L1200.6 1040.5 L1196.0 1044.4 L1191.5 1048.8 L1187.4 1053.6 L1183.5 1058.9 L1180.0 1064.7 L1176.8 1070.8 L1173.9 1077.4 L1171.3 1084.3 L1169.2 1091.5 L1167.4 1099.0 L1165.9 1106.8 L1164.9 1114.8 L1164.2 1123.1 L1163.9 1131.5 L1164.1 1140.0 L1164.6 1148.6 L1165.5 1157.2 L1166.8 1165.9 L1168.4 1174.5 L1170.5 1183.1 L1172.9 1191.6 L1175.6 1200.0 L1178.7 1208.2 L1182.2 1216.2 L1185.9 1224.0 L1190.0 1231.5 L1194.3 1238.6 L1198.9 1245.5 L1203.7 1252.0 L1208.7 1258.1 L1214.0 1263.8 L1219.4 1269.0 L1225.0 1273.8 L1230.7 1278.1 L1236.5 1281.9 L1242.4 1285.2 L1248.4 1288.0 L1254.3 1290.2 L1260.3 1291.8 L1266.3 1292.9 L1272.2 1293.4 L1278.1 1293.4 L1283.8 1292.8 L1289.5 1291.6 L1857.9 1144.8 L1863.4 1143.1 L1868.7 1140.8 L1873.9 1138.0 L1878.8 1134.6 L1883.4 1130.8 L1887.9 1126.4 L1892.0 1121.5 L1895.9 1116.2 L1899.4 1110.5 L1902.6 1104.3 L1905.5 1097.8 L1908.1 1090.9 L1910.2 1083.6 L1912.1 1076.1 L1913.5 1068.3 L1914.5 1060.3 L1915.2 1052.1 L1915.5 1043.7 L1915.3 1035.2 L1914.8 1026.6 L1913.9 1017.9 L1912.6 1009.3 L1911.0 1000.6 L1908.9 992.0 L1906.5 983.5 L1903.8 975.1 L1900.7 966.9 L1897.2 959.0 L1893.5 951.2 L1889.4 943.7 L1885.1 936.5 L1880.5 929.7 L1875.7 923.2 L1870.7 917.1 L1865.4 911.4 L1860.0 906.1 L1854.4 901.3 L1848.7 897.0 L1842.9 893.2 L1837.0 889.9 L1831.0 887.2 L1825.1 885.0 L1819.1 883.3 L1813.1 882.2 L1807.2 881.7 L1801.3 881.7 L1795.6 882.4 L1789.9 883.5Z M1802.1 1135.3 L1798.7 1134.3 L1793.9 1132.9 L1789.0 1130.9 L1784.7 1128.2 L1780.3 1125.0 L1775.8 1121.4 L1771.2 1117.8 L1766.5 1113.8 L1761.1 1108.9 L1754.7 1102.5 L1747.6 1095.2 L1740.6 1088.4 L1733.7 1082.5 L1726.7 1077.0 L1720.1 1072.3 L1714.1 1068.5 L1708.5 1065.5 L1702.5 1062.8 L1695.7 1060.2 L1688.6 1057.9 L1682.0 1056.2 L1676.5 1055.4 L1671.5 1055.2 L1665.9 1055.4 L1659.0 1056.0 L1651.5 1057.1 L1644.0 1058.4 L1636.7 1059.9 L1629.3 1061.6 L1622.0 1063.5 L1614.3 1065.8 L1606.6 1068.4 L1600.0 1070.7 L1596.0 1072.1 L1593.1 1073.3 L1588.3 1075.2 L1579.8 1078.6 L1569.4 1082.8 L1559.0 1086.9 L1549.2 1090.6 L1539.5 1094.1 L1529.7 1097.2 L1519.4 1099.9 L1509.1 1102.2 L1500.4 1103.8 L1494.4 1104.6 L1490.1 1104.7 L1485.8 1104.5 L1480.9 1104.2 L1476.0 1103.6 L1471.1 1102.7 L1466.2 1101.6 L1461.4 1100.2 L1456.5 1098.6 L1451.6 1096.9 L1446.7 1095.0 L1441.8 1092.8 L1436.9 1090.2 L1432.1 1087.3 L1427.2 1084.0 L1422.3 1080.4 L1417.4 1076.5 L1412.5 1072.3 L1407.7 1067.7 L1403.0 1062.8 L1397.9 1057.6 L1392.1 1051.7 L1386.0 1045.5 L1380.3 1040.0 L1375.5 1035.6 L1371.3 1031.9 L1367.0 1028.5 L1362.7 1025.2 L1358.4 1022.2 L1354.0 1019.5 L1349.3 1017.1 L1344.6 1014.9 L1340.0 1013.0 L1335.3 1011.2 L1330.8 1009.7 L1327.6 1008.6 L1327.6 1008.6 L1756.0 900.0 L1759.1 901.2 L1763.5 902.9 L1768.6 904.9 L1774.1 907.1 L1779.4 909.3 L1784.0 911.3 L1788.1 913.2 L1792.0 915.2 L1795.8 917.2 L1799.3 919.2 L1802.8 921.1 L1806.0 923.0 L1809.0 924.7 L1811.6 926.1 L1814.1 927.5 L1816.6 929.1 L1819.1 930.9 L1822.0 933.2 L1825.2 936.1 L1828.7 939.4 L1832.3 943.0 L1835.9 946.7 L1839.4 950.3 L1842.5 953.7 L1845.3 956.7 L1847.8 959.6 L1850.2 962.3 L1852.5 965.1 L1854.8 968.1 L1857.2 971.3 L1859.7 974.9 L1862.3 978.9 L1865.0 983.0 L1867.5 987.1 L1869.8 991.1 L1871.8 994.8 L1873.5 998.3 L1875.0 1001.6 L1876.2 1004.8 L1877.3 1007.8 L1878.3 1010.8 L1879.2 1013.8 L1880.0 1016.7 L1880.7 1019.4 L1881.3 1022.0 L1881.8 1024.6 L1882.2 1027.3 L1882.4 1030.0 L1882.5 1032.8 L1882.5 1035.5 L1882.4 1038.3 L1882.2 1041.2 L1881.9 1044.0 L1881.5 1047.0 L1881.0 1050.0 L1880.4 1053.1 L1879.7 1056.2 L1878.9 1059.4 L1878.0 1062.7 L1877.0 1066.0 L1875.8 1069.5 L1874.4 1073.3 L1872.9 1077.1 L1871.4 1080.8 L1870.1 1084.1 L1869.0 1087.0 L1868.2 1089.3 L1867.5 1091.3 L1867.0 1093.0 L1866.5 1094.4 L1866.2 1095.5 L1865.9 1096.4 L1811.0 1109.6Z" clip-rule="evenodd"/></clipPath>
<clipPath id="cCut"><path d="M1802.1 1135.3 L1798.7 1134.3 L1793.9 1132.9 L1789.0 1130.9 L1784.7 1128.2 L1780.3 1125.0 L1775.8 1121.4 L1771.2 1117.8 L1766.5 1113.8 L1761.1 1108.9 L1754.7 1102.5 L1747.6 1095.2 L1740.6 1088.4 L1733.7 1082.5 L1726.7 1077.0 L1720.1 1072.3 L1714.1 1068.5 L1708.5 1065.5 L1702.5 1062.8 L1695.7 1060.2 L1688.6 1057.9 L1682.0 1056.2 L1676.5 1055.4 L1671.5 1055.2 L1665.9 1055.4 L1659.0 1056.0 L1651.5 1057.1 L1644.0 1058.4 L1636.7 1059.9 L1629.3 1061.6 L1622.0 1063.5 L1614.3 1065.8 L1606.6 1068.4 L1600.0 1070.7 L1596.0 1072.1 L1593.1 1073.3 L1588.3 1075.2 L1579.8 1078.6 L1569.4 1082.8 L1559.0 1086.9 L1549.2 1090.6 L1539.5 1094.1 L1529.7 1097.2 L1519.4 1099.9 L1509.1 1102.2 L1500.4 1103.8 L1494.4 1104.6 L1490.1 1104.7 L1485.8 1104.5 L1480.9 1104.2 L1476.0 1103.6 L1471.1 1102.7 L1466.2 1101.6 L1461.4 1100.2 L1456.5 1098.6 L1451.6 1096.9 L1446.7 1095.0 L1441.8 1092.8 L1436.9 1090.2 L1432.1 1087.3 L1427.2 1084.0 L1422.3 1080.4 L1417.4 1076.5 L1412.5 1072.3 L1407.7 1067.7 L1403.0 1062.8 L1397.9 1057.6 L1392.1 1051.7 L1386.0 1045.5 L1380.3 1040.0 L1375.5 1035.6 L1371.3 1031.9 L1367.0 1028.5 L1362.7 1025.2 L1358.4 1022.2 L1354.0 1019.5 L1349.3 1017.1 L1344.6 1014.9 L1340.0 1013.0 L1335.3 1011.2 L1330.8 1009.7 L1327.6 1008.6 L1327.6 1008.6 L1756.0 900.0 L1759.1 901.2 L1763.5 902.9 L1768.6 904.9 L1774.1 907.1 L1779.4 909.3 L1784.0 911.3 L1788.1 913.2 L1792.0 915.2 L1795.8 917.2 L1799.3 919.2 L1802.8 921.1 L1806.0 923.0 L1809.0 924.7 L1811.6 926.1 L1814.1 927.5 L1816.6 929.1 L1819.1 930.9 L1822.0 933.2 L1825.2 936.1 L1828.7 939.4 L1832.3 943.0 L1835.9 946.7 L1839.4 950.3 L1842.5 953.7 L1845.3 956.7 L1847.8 959.6 L1850.2 962.3 L1852.5 965.1 L1854.8 968.1 L1857.2 971.3 L1859.7 974.9 L1862.3 978.9 L1865.0 983.0 L1867.5 987.1 L1869.8 991.1 L1871.8 994.8 L1873.5 998.3 L1875.0 1001.6 L1876.2 1004.8 L1877.3 1007.8 L1878.3 1010.8 L1879.2 1013.8 L1880.0 1016.7 L1880.7 1019.4 L1881.3 1022.0 L1881.8 1024.6 L1882.2 1027.3 L1882.4 1030.0 L1882.5 1032.8 L1882.5 1035.5 L1882.4 1038.3 L1882.2 1041.2 L1881.9 1044.0 L1881.5 1047.0 L1881.0 1050.0 L1880.4 1053.1 L1879.7 1056.2 L1878.9 1059.4 L1878.0 1062.7 L1877.0 1066.0 L1875.8 1069.5 L1874.4 1073.3 L1872.9 1077.1 L1871.4 1080.8 L1870.1 1084.1 L1869.0 1087.0 L1868.2 1089.3 L1867.5 1091.3 L1867.0 1093.0 L1866.5 1094.4 L1866.2 1095.5 L1865.9 1096.4 L1811.0 1109.6Z"/></clipPath>
<clipPath id="cHole"><path d="M1497.8 1048.3 L1497.6 1038.9 L1496.9 1030.0 L1495.8 1021.9 L1494.1 1014.6 L1492.0 1008.2 L1489.2 1002.8 L1485.9 998.6 L1481.9 995.4 L1477.1 993.5 L1471.5 992.6 L1465.2 992.9 L1458.1 994.3 L1450.4 996.7 L1442.2 1000.2 L1433.8 1004.6 L1425.2 1010.1 L1417.0 1016.4 L1409.2 1023.5 L1402.1 1031.4 L1396.1 1039.9 L1391.2 1048.9 L1387.5 1058.3 L1385.3 1067.9 L1384.6 1077.6 L1385.3 1087.2 L1387.5 1096.5 L1391.2 1105.4 L1396.1 1113.8 L1402.1 1121.3 L1409.2 1128.0 L1417.0 1133.6 L1425.2 1138.0 L1433.8 1141.2 L1442.2 1142.9 L1450.4 1143.2 L1458.1 1142.0 L1465.2 1139.4 L1471.5 1135.3 L1477.1 1130.0 L1481.9 1123.4 L1485.9 1115.8 L1489.2 1107.3 L1492.0 1098.1 L1494.1 1088.4 L1495.8 1078.4 L1496.9 1068.3 L1497.6 1058.2Z"/></clipPath></defs>
<path d="M1241.0 1381.0 L1281.0 1371.0 L1476.0 1422.5 L1436.0 1432.5Z" fill="#9fb2b5" stroke="#1f3134" stroke-width="1.1" />
<path d="M1241.0 1381.0 L1436.0 1432.5 L1436.0 1437.0 L1241.0 1385.5Z" fill="#cfdfdf" stroke="#1f3134" stroke-width="1.1" />
<path d="M1436.0 1432.5 L1476.0 1422.5 L1476.0 1427.0 L1436.0 1437.0Z" fill="#b9caca" stroke="#1f3134" stroke-width="1.1" />
<path d="M1277.5 1300.0 L1338.8 1280.0 L1338.8 1403.0 L1277.5 1387.5Z" fill="#abc3c8" stroke="#1f3134" stroke-width="1.1" />
<path d="M1357.5 1262.0 L1418.0 1240.0 L1418.0 1419.0 L1357.5 1403.5Z" fill="#abc3c8" stroke="#1f3134" stroke-width="1.1" />
<path d="M1257.5 1300.0 L1277.5 1300.0 L1277.5 1387.5 L1257.5 1383.5Z" fill="#d3e5e3" stroke="#1f3134" stroke-width="1.1" />
<path d="M1338.8 1270.0 L1357.5 1266.0 L1357.5 1402.5 L1338.8 1406.0Z" fill="#d3e5e3" stroke="#1f3134" stroke-width="1.1" />
<path d="M1624.5 1293.2 l-5 4.5 M1630.2 1294.9 l-5 4.5 M1635.9 1296.5 l-5 4.5 M1641.6 1298.1 l-5 4.5 M1647.3 1299.7 l-5 4.5 M1653.0 1301.3 l-5 4.5 M1658.7 1303.0 l-5 4.5 M1664.4 1304.6 l-5 4.5 M1670.1 1306.2 l-5 4.5 M1675.9 1307.8 l-5 4.5 M1681.6 1309.4 l-5 4.5 M1687.3 1311.0 l-5 4.5 M1693.0 1312.7 l-5 4.5 M1698.7 1314.3 l-5 4.5 M1704.4 1315.9 l-5 4.5 M1710.1 1317.5 l-5 4.5 M1715.8 1319.1 l-5 4.5 M1721.5 1320.8 l-5 4.5 M1727.2 1322.4 l-5 4.5 M1732.9 1324.0 l-5 4.5 M1738.6 1325.6 l-5 4.5 M1744.3 1327.2 l-5 4.5 M1750.0 1328.8 l-5 4.5 M1755.7 1330.5 l-5 4.5 M1761.4 1332.1 l-5 4.5 M1767.1 1333.7 l-5 4.5 M1772.9 1335.3 l-5 4.5 M1778.6 1336.9 l-5 4.5 M1784.3 1338.5 l-5 4.5 M1790.0 1340.2 l-5 4.5 M1795.7 1341.8 l-5 4.5 M1801.4 1343.4 l-5 4.5 M1807.1 1345.0 l-5 4.5 M1812.8 1346.6 l-5 4.5 M1818.5 1348.2 l-5 4.5 M1818.5 1348.2 l6 3 M1826.3 1346.2 l6 3 M1834.1 1344.2 l6 3 M1841.9 1342.2 l6 3 M1849.8 1340.1 l6 3 M1857.6 1338.1 l6 3 M1865.4 1336.1 l6 3 M1873.2 1334.0 l6 3 M1881.0 1332.0 l6 3" stroke="#5a6a6c" stroke-width="1.1" fill="none"/>
<path d="M1624.5 1288.8 L1687.0 1272.5 L1881.0 1327.5 L1818.5 1343.8Z" fill="#9fb2b5" stroke="#1f3134" stroke-width="1.1" />
<path d="M1624.5 1288.8 L1818.5 1343.8 L1818.5 1348.2 L1624.5 1293.2Z" fill="#cfdfdf" stroke="#1f3134" stroke-width="1.1" />
<path d="M1818.5 1343.8 L1881.0 1327.5 L1881.0 1332.0 L1818.5 1348.2Z" fill="#b9caca" stroke="#1f3134" stroke-width="1.1" />
<path d="M1666.0 1190.0 L1728.5 1176.0 L1728.5 1298.0 L1666.0 1283.0Z" fill="#abc3c8" stroke="#1f3134" stroke-width="1.1" />
<path d="M1748.5 1170.0 L1809.8 1150.0 L1809.8 1325.0 L1748.5 1306.0Z" fill="#abc3c8" stroke="#1f3134" stroke-width="1.1" />
<path d="M1647.0 1195.0 L1666.0 1192.0 L1666.0 1290.0 L1647.0 1286.0Z" fill="#d3e5e3" stroke="#1f3134" stroke-width="1.1" />
<path d="M1728.5 1178.0 L1748.5 1174.0 L1748.5 1303.8 L1729.5 1307.5Z" fill="#d3e5e3" stroke="#1f3134" stroke-width="1.1" />
<ellipse cx="1441" cy="1381" rx="2.6" ry="3" fill="#555" stroke="#1f3134" stroke-width="0.6"/>
<ellipse cx="1260" cy="1384" rx="3" ry="1.6" fill="#9ab" stroke="#1f3134" stroke-width="0.6"/>
<ellipse cx="1668" cy="1289" rx="3.5" ry="1.8" fill="#778" stroke="#1f3134" stroke-width="0.6"/>
<ellipse cx="1799" cy="1322" rx="3.5" ry="1.8" fill="#778" stroke="#1f3134" stroke-width="0.6"/>
<rect x="1564.4" y="1212" width="25" height="22" fill="#cfdede" stroke="#1d2324" stroke-width="1"/>
<path d="M1564.4 1222.5 q12.5 4 25 0 M1564.4 1226.5 q12.5 4 25 0" fill="none" stroke="#39494b" stroke-width="1.4"/>
<rect x="1562.0" y="1268" width="4.6" height="7.5" rx="1.5" fill="#dde9e9" stroke="#1d2324" stroke-width="1.3"/>
<rect x="1568.6" y="1268" width="4.6" height="7.5" rx="1.5" fill="#dde9e9" stroke="#1d2324" stroke-width="1.3"/>
<rect x="1575.2" y="1268" width="4.6" height="7.5" rx="1.5" fill="#dde9e9" stroke="#1d2324" stroke-width="1.3"/>
<rect x="1581.8" y="1268" width="4.6" height="7.5" rx="1.5" fill="#dde9e9" stroke="#1d2324" stroke-width="1.3"/>
<rect x="1588.4" y="1268" width="4.6" height="7.5" rx="1.5" fill="#dde9e9" stroke="#1d2324" stroke-width="1.3"/>
<path d="M1549.6 1260.5 a27.0 5.6 0 0 0 54.0 0 v6.5 a27.0 5.6 0 0 1 -54.0 0z" fill="#c3d4d4" stroke="#1d2324" stroke-width="1.2"/>
<ellipse cx="1576.6" cy="1260.5" rx="27.0" ry="5.6" fill="#cfdede" stroke="#1d2324" stroke-width="1.2"/>
<rect x="1553.7" y="1249" width="43.4" height="12" fill="#b4c6c7" stroke="#1d2324" stroke-width="1"/>
<path d="M1560 1256 h30" stroke="#111" stroke-width="3"/>
<rect x="1556.0" y="1248" width="3.6" height="13" fill="#e2eded" stroke="#46585a" stroke-width="0.6"/>
<rect x="1563.6" y="1248" width="3.6" height="13" fill="#e2eded" stroke="#46585a" stroke-width="0.6"/>
<rect x="1571.2" y="1248" width="3.6" height="13" fill="#e2eded" stroke="#46585a" stroke-width="0.6"/>
<rect x="1578.8" y="1248" width="3.6" height="13" fill="#e2eded" stroke="#46585a" stroke-width="0.6"/>
<rect x="1586.4" y="1248" width="3.6" height="13" fill="#e2eded" stroke="#46585a" stroke-width="0.6"/>
<rect x="1594.0" y="1248" width="3.6" height="13" fill="#e2eded" stroke="#46585a" stroke-width="0.6"/>
<path d="M1541.4 1240.0 a31.0 6.6 0 0 0 62.0 0 v8.0 a31.0 6.6 0 0 1 -62.0 0z" fill="#c3d4d4" stroke="#1d2324" stroke-width="1.2"/>
<ellipse cx="1572.4" cy="1240.0" rx="31.0" ry="6.6" fill="#cfdede" stroke="#1d2324" stroke-width="1.2"/>
<ellipse cx="1576.5" cy="1238" rx="13" ry="3.6" fill="#b4c6c7" stroke="#1d2324" stroke-width="1"/>
<circle cx="1596.5" cy="1239.9" r="3.3" fill="#20282a"/>
<circle cx="1596.5" cy="1240.4" r="1.4" fill="#e9f1f1"/>
<circle cx="1582.6" cy="1242.8" r="3.3" fill="#20282a"/>
<circle cx="1582.6" cy="1243.3" r="1.4" fill="#e9f1f1"/>
<circle cx="1562.7" cy="1242.8" r="3.3" fill="#20282a"/>
<circle cx="1562.7" cy="1243.3" r="1.4" fill="#e9f1f1"/>
<circle cx="1548.5" cy="1240.0" r="3.3" fill="#20282a"/>
<circle cx="1548.5" cy="1240.5" r="1.4" fill="#e9f1f1"/>
<circle cx="1548.3" cy="1236.1" r="3.3" fill="#20282a"/>
<circle cx="1548.3" cy="1236.6" r="1.4" fill="#e9f1f1"/>
<circle cx="1562.2" cy="1233.2" r="3.3" fill="#20282a"/>
<circle cx="1562.2" cy="1233.7" r="1.4" fill="#e9f1f1"/>
<circle cx="1582.1" cy="1233.2" r="3.3" fill="#20282a"/>
<circle cx="1582.1" cy="1233.7" r="1.4" fill="#e9f1f1"/>
<circle cx="1596.3" cy="1236.0" r="3.3" fill="#20282a"/>
<circle cx="1596.3" cy="1236.5" r="1.4" fill="#e9f1f1"/>
<path d="M1045.0 1022.0 L1140.0 1007.0 L1150.0 1110.0 L1046.0 1094.0Z" fill="#b4c8cb" stroke="#1f3134" stroke-width="1.1" />
<path d="M1045.0 1200.0 L1150.0 1200.0 L1150.0 1275.0 L1125.0 1264.0 L1044.0 1221.0Z" fill="#b4c8cb" stroke="#1f3134" stroke-width="1.1" />
<path d="M1512.0 1052.7 L1511.3 1041.3 L1509.3 1030.6 L1505.9 1020.7 L1501.2 1012.1 L1495.4 1004.7 L1488.7 998.9 L1481.1 994.8 L1472.9 992.5 L1464.3 992.1 L1455.4 993.4 L1446.6 996.6 L1437.9 1001.6 L1429.7 1008.1 L1422.1 1016.1 L1415.4 1025.4 L1409.6 1035.7 L1405.0 1046.8 L1401.6 1058.4 L1399.5 1070.2 L1398.8 1081.9 L1399.5 1093.3 L1401.6 1104.0 L1405.0 1113.9 L1409.6 1122.6 L1415.4 1129.9 L1422.1 1135.7 L1429.7 1139.8 L1437.9 1142.1 L1446.6 1142.6 L1455.4 1141.2 L1464.3 1138.0 L1472.9 1133.1 L1481.1 1126.5 L1488.7 1118.5 L1495.4 1109.2 L1501.2 1098.9 L1505.9 1087.8 L1509.3 1076.2 L1511.3 1064.4Z" fill="#b5c6c6" stroke="#1f3134" stroke-width="0.8" />
<path d="M1434.7 1029.1 L1434.0 1017.7 L1432.0 1007.0 L1428.6 997.1 L1423.9 988.5 L1418.2 981.1 L1411.4 975.3 L1403.8 971.2 L1395.6 968.9 L1387.0 968.5 L1378.1 969.8 L1369.3 973.0 L1360.6 978.0 L1352.4 984.5 L1344.9 992.5 L1338.1 1001.8 L1332.3 1012.1 L1327.7 1023.2 L1324.3 1034.8 L1322.2 1046.6 L1321.5 1058.3 L1322.2 1069.7 L1324.3 1080.4 L1327.7 1090.3 L1332.3 1099.0 L1338.1 1106.3 L1344.9 1112.1 L1352.4 1116.2 L1360.6 1118.5 L1369.3 1119.0 L1378.1 1117.6 L1387.0 1114.4 L1395.6 1109.5 L1403.8 1102.9 L1411.4 1094.9 L1418.2 1085.6 L1423.9 1075.3 L1428.6 1064.2 L1432.0 1052.6 L1434.0 1040.8Z" fill="#b9caca" stroke="#1f3134" stroke-width="1.1" />
<path d="M1434.7 1029.1 L1434.0 1017.7 L1432.0 1007.0 L1428.6 997.1 L1423.9 988.5 L1418.2 981.1 L1411.4 975.3 L1403.8 971.2 L1395.6 968.9 L1387.0 968.5 L1378.1 969.8 L1369.3 973.0 L1360.6 978.0 L1352.4 984.5 L1344.9 992.5 L1338.1 1001.8 L1332.3 1012.1 L1327.7 1023.2 L1324.3 1034.8 L1322.2 1046.6 L1321.5 1058.3 L1398.8 1081.9 L1399.5 1070.2 L1401.6 1058.4 L1405.0 1046.8 L1409.6 1035.7 L1415.4 1025.4 L1422.1 1016.1 L1429.7 1008.1 L1437.9 1001.6 L1446.6 996.6 L1455.4 993.4 L1464.3 992.1 L1472.9 992.5 L1481.1 994.8 L1488.7 998.9 L1495.4 1004.7 L1501.2 1012.1 L1505.9 1020.7 L1509.3 1030.6 L1511.3 1041.3 L1512.0 1052.7Z" fill="#b9caca" stroke="none" />
<path d="M1378.1 969.8 L1455.4 993.4" fill="none" stroke="#1f3134" stroke-width="1.1" />
<path d="M1434.7 1029.1 L1434.0 1017.7 L1432.0 1007.0 L1428.6 997.1 L1423.9 988.5 L1418.2 981.1 L1411.4 975.3 L1403.8 971.2 L1395.6 968.9 L1387.0 968.5 L1378.1 969.8 L1369.3 973.0 L1360.6 978.0 L1352.4 984.5 L1344.9 992.5 L1338.1 1001.8 L1332.3 1012.1 L1327.7 1023.2 L1324.3 1034.8 L1322.2 1046.6 L1321.5 1058.3" fill="none" stroke="#1f3134" stroke-width="1.1" />
<path d="M1862.8 923.3 L1859.6 924.3 L1856.5 925.6 L1853.6 927.2 L1850.7 929.2 L1848.0 931.4 L1845.4 933.9 L1843.0 936.8 L1840.8 939.8 L1838.7 943.2 L1836.9 946.7 L1835.2 950.5 L1833.7 954.5 L1832.5 958.7 L1831.4 963.1 L1830.6 967.6 L1830.0 972.3 L1829.6 977.0 L1829.4 981.9 L1829.5 986.9 L1829.8 991.8 L1830.3 996.9 L1831.1 1001.9 L1832.0 1006.9 L1833.2 1011.9 L1834.6 1016.8 L1836.2 1021.7 L1838.0 1026.4 L1840.0 1031.1 L1842.2 1035.6 L1844.5 1039.9 L1847.0 1044.1 L1849.7 1048.1 L1852.5 1051.8 L1855.4 1055.4 L1858.5 1058.7 L1861.6 1061.7 L1864.8 1064.5 L1868.2 1067.0 L1871.5 1069.2 L1874.9 1071.1 L1878.4 1072.7 L1881.9 1074.0 L1885.3 1074.9 L1888.8 1075.6 L1892.2 1075.9 L1895.6 1075.8 L1899.0 1075.5 L1902.2 1074.8 L1956.4 1060.8 L1959.6 1059.8 L1962.7 1058.5 L1965.6 1056.9 L1968.5 1054.9 L1971.2 1052.7 L1973.8 1050.1 L1976.2 1047.3 L1978.4 1044.2 L1980.5 1040.9 L1982.3 1037.3 L1984.0 1033.5 L1985.5 1029.5 L1986.7 1025.3 L1987.8 1021.0 L1988.6 1016.5 L1989.2 1011.8 L1989.6 1007.0 L1989.8 1002.2 L1989.7 997.2 L1989.4 992.2 L1988.9 987.2 L1988.1 982.2 L1987.2 977.2 L1986.0 972.2 L1984.6 967.3 L1983.0 962.4 L1981.2 957.7 L1979.2 953.0 L1977.0 948.5 L1974.7 944.2 L1972.2 940.0 L1969.5 936.0 L1966.7 932.3 L1963.8 928.7 L1960.7 925.4 L1957.6 922.4 L1954.4 919.6 L1951.0 917.1 L1947.7 914.9 L1944.2 913.0 L1940.8 911.4 L1937.3 910.1 L1933.9 909.2 L1930.4 908.5 L1927.0 908.2 L1923.6 908.2 L1920.2 908.6 L1917.0 909.3Z" fill="url(#gNoz)" stroke="#1f3134" stroke-width="1.25" />
<ellipse cx="1882.5" cy="999.0" rx="51.0" ry="78.3" transform="rotate(-14.5 1882.5 999.0)" fill="url(#gHead)" />
<ellipse cx="1878.0" cy="1000.2" rx="59.7" ry="91.8" transform="rotate(-14.5 1878.0 1000.2)" fill="url(#gHead)" />
<ellipse cx="1873.3" cy="1001.4" rx="67.5" ry="103.6" transform="rotate(-14.5 1873.3 1001.4)" fill="url(#gHead)" />
<ellipse cx="1868.1" cy="1002.8" rx="73.4" ry="112.8" transform="rotate(-14.5 1868.1 1002.8)" fill="url(#gHead)" />
<ellipse cx="1862.5" cy="1004.2" rx="74.9" ry="115.0" transform="rotate(-14.5 1862.5 1004.2)" fill="url(#gHead)" />
<ellipse cx="1854.7" cy="1006.2" rx="79.8" ry="122.6" transform="rotate(-14.5 1854.7 1006.2)" fill="url(#gHead)" />
<ellipse cx="1846.6" cy="1008.3" rx="83.4" ry="128.1" transform="rotate(-14.5 1846.6 1008.3)" fill="url(#gHead)" />
<ellipse cx="1837.3" cy="1010.7" rx="86.1" ry="132.3" transform="rotate(-14.5 1837.3 1010.7)" fill="url(#gHead)" />
<ellipse cx="1825.7" cy="1013.7" rx="87.9" ry="135.0" transform="rotate(-14.5 1825.7 1013.7)" fill="url(#gHead)" />
<path d="M1908.9 1072.3 L1911.6 1070.8 L1914.2 1069.0 L1916.7 1067.0 L1919.0 1064.7 L1921.3 1062.2 L1923.4 1059.5 L1925.3 1056.6 L1927.1 1053.4 L1928.7 1050.1 L1930.2 1046.6 L1931.5 1042.9 L1932.7 1039.1 L1933.6 1035.1 L1934.4 1031.0 L1935.0 1026.7 L1935.4 1022.4 L1935.6 1018.0 L1935.6 1013.5 L1935.4 1009.0 L1935.1 1004.5 L1934.5 999.9 L1933.8 995.3 L1932.9 990.7 L1931.8 986.2 L1930.5 981.7 L1929.1 977.3 L1927.5 972.9 L1925.8 968.6 L1923.8 964.5 L1921.8 960.5 L1919.6 956.6 L1917.3 952.8 L1914.8 949.2 L1912.2 945.8 L1909.6 942.6 L1906.8 939.6 L1903.9 936.8 L1901.0 934.2 L1898.0 931.9 L1894.9 929.8 L1891.8 927.9 L1888.7 926.3 L1885.6 925.0 L1882.4 923.9 L1879.2 923.0 L1876.1 922.5 L1872.9 922.2 L1869.9 922.2" fill="none" stroke="#1f3134" stroke-width="1.25" />
<path d="M1908.9 1077.2 L1911.7 1075.5 L1914.5 1073.7 L1917.1 1071.5 L1919.6 1069.1 L1922.0 1066.5 L1924.2 1063.6 L1926.3 1060.5 L1928.2 1057.1 L1929.9 1053.6 L1931.5 1049.9 L1932.9 1046.0 L1934.1 1041.9 L1935.1 1037.7 L1935.9 1033.3 L1936.5 1028.8 L1936.9 1024.3 L1937.2 1019.6 L1937.2 1014.8 L1937.0 1010.0 L1936.6 1005.2 L1936.1 1000.3 L1935.3 995.5 L1934.3 990.6 L1933.2 985.8 L1931.8 981.1 L1930.3 976.4 L1928.6 971.7 L1926.8 967.2 L1924.7 962.8 L1922.5 958.5 L1920.2 954.4 L1917.7 950.4 L1915.1 946.6 L1912.4 943.0 L1909.6 939.6 L1906.6 936.4 L1903.6 933.5 L1900.5 930.7 L1897.3 928.2 L1894.1 926.0 L1890.8 924.0 L1887.5 922.3 L1884.1 920.9 L1880.8 919.7 L1877.4 918.9 L1874.1 918.3 L1870.7 918.0 L1867.5 918.0" fill="none" stroke="#1f3134" stroke-width="1.25" />
<path d="M1906.1 1108.3 L1910.0 1106.1 L1913.7 1103.5 L1917.3 1100.6 L1920.7 1097.4 L1923.9 1093.8 L1926.9 1089.9 L1929.8 1085.6 L1932.3 1081.1 L1934.7 1076.3 L1936.8 1071.2 L1938.7 1065.9 L1940.3 1060.4 L1941.7 1054.7 L1942.8 1048.7 L1943.6 1042.7 L1944.2 1036.4 L1944.5 1030.1 L1944.6 1023.6 L1944.3 1017.1 L1943.8 1010.6 L1943.0 1004.0 L1942.0 997.4 L1940.7 990.8 L1939.1 984.2 L1937.3 977.8 L1935.2 971.4 L1932.9 965.1 L1930.4 959.0 L1927.6 953.0 L1924.7 947.2 L1921.5 941.6 L1918.1 936.2 L1914.6 931.0 L1910.9 926.1 L1907.1 921.5 L1903.1 917.2 L1898.9 913.1 L1894.7 909.4 L1890.4 906.0 L1886.0 903.0 L1881.5 900.3 L1877.0 898.0 L1872.5 896.0 L1867.9 894.5 L1863.4 893.3 L1858.8 892.5 L1854.3 892.1 L1849.9 892.1" fill="none" stroke="#1f3134" stroke-width="1.25" />
<path d="M1901.3 1111.8 L1905.2 1109.6 L1909.1 1107.0 L1912.7 1104.0 L1916.2 1100.7 L1919.4 1097.0 L1922.5 1093.0 L1925.4 1088.7 L1928.0 1084.1 L1930.4 1079.2 L1932.6 1074.0 L1934.5 1068.6 L1936.2 1063.0 L1937.6 1057.1 L1938.7 1051.1 L1939.6 1044.9 L1940.1 1038.5 L1940.4 1032.1 L1940.5 1025.5 L1940.2 1018.9 L1939.7 1012.2 L1938.9 1005.4 L1937.9 998.7 L1936.5 992.0 L1934.9 985.3 L1933.1 978.7 L1931.0 972.2 L1928.6 965.8 L1926.0 959.6 L1923.2 953.5 L1920.2 947.5 L1917.0 941.8 L1913.5 936.3 L1909.9 931.1 L1906.2 926.1 L1902.2 921.4 L1898.2 916.9 L1894.0 912.8 L1889.7 909.0 L1885.3 905.6 L1880.8 902.5 L1876.2 899.7 L1871.6 897.4 L1867.0 895.4 L1862.3 893.8 L1857.7 892.6 L1853.1 891.8 L1848.5 891.4 L1843.9 891.4" fill="none" stroke="#1f3134" stroke-width="1.25" />
<path d="M1871.2 1140.0 L1875.8 1137.4 L1880.3 1134.4 L1884.6 1130.9 L1888.7 1127.0 L1892.5 1122.7 L1896.1 1118.0 L1899.5 1112.9 L1902.6 1107.5 L1905.4 1101.8 L1907.9 1095.7 L1910.2 1089.3 L1912.1 1082.7 L1913.8 1075.9 L1915.1 1068.8 L1916.1 1061.5 L1916.8 1054.0 L1917.2 1046.4 L1917.2 1038.7 L1916.9 1030.9 L1916.3 1023.1 L1915.4 1015.2 L1914.1 1007.3 L1912.6 999.4 L1910.7 991.6 L1908.5 983.8 L1906.0 976.2 L1903.3 968.7 L1900.2 961.3 L1896.9 954.1 L1893.4 947.2 L1889.6 940.5 L1885.6 934.0 L1881.3 927.9 L1876.9 922.0 L1872.3 916.5 L1867.5 911.3 L1862.6 906.4 L1857.5 902.0 L1852.4 897.9 L1847.1 894.3 L1841.8 891.1 L1836.4 888.3 L1830.9 886.0 L1825.5 884.1 L1820.0 882.7 L1814.6 881.7 L1809.2 881.2 L1803.8 881.2" fill="none" stroke="#1f3134" stroke-width="1.25" />
<path d="M1867.2 1141.1 L1871.9 1138.4 L1876.4 1135.4 L1880.6 1131.9 L1884.7 1128.0 L1888.6 1123.7 L1892.2 1119.0 L1895.5 1113.9 L1898.6 1108.5 L1901.4 1102.8 L1904.0 1096.7 L1906.2 1090.4 L1908.2 1083.7 L1909.8 1076.9 L1911.2 1069.8 L1912.2 1062.5 L1912.8 1055.0 L1913.2 1047.5 L1913.3 1039.7 L1913.0 1031.9 L1912.4 1024.1 L1911.4 1016.2 L1910.2 1008.3 L1908.6 1000.4 L1906.7 992.6 L1904.6 984.8 L1902.1 977.2 L1899.3 969.7 L1896.3 962.3 L1893.0 955.2 L1889.4 948.2 L1885.6 941.5 L1881.6 935.1 L1877.4 928.9 L1873.0 923.0 L1868.4 917.5 L1863.6 912.3 L1858.6 907.5 L1853.6 903.0 L1848.4 899.0 L1843.2 895.3 L1837.8 892.1 L1832.4 889.3 L1827.0 887.0 L1821.5 885.1 L1816.1 883.7 L1810.6 882.7 L1805.2 882.3 L1799.9 882.3" fill="none" stroke="#1f3134" stroke-width="1.25" />
<path d="M1862.8 923.3 L1854.9 911.4 L1847.2 901.1 L1839.7 893.6 L1833.6 892.9 L1823.9 887.6 L1814.3 884.3 L1804.0 882.7 L1791.7 883.0" fill="none" stroke="#1f3134" stroke-width="1.25" />
<path d="M1902.2 1074.8 L1901.1 1089.0 L1899.4 1101.7 L1896.5 1111.9 L1891.5 1115.5 L1885.6 1124.9 L1878.9 1132.3 L1870.6 1138.7 L1859.7 1144.4" fill="none" stroke="#1f3134" stroke-width="1.25" />
<g clip-path="url(#cCut)">
<path d="M1802.1 1135.3 L1798.7 1134.3 L1793.9 1132.9 L1789.0 1130.9 L1784.7 1128.2 L1780.3 1125.0 L1775.8 1121.4 L1771.2 1117.8 L1766.5 1113.8 L1761.1 1108.9 L1754.7 1102.5 L1747.6 1095.2 L1740.6 1088.4 L1733.7 1082.5 L1726.7 1077.0 L1720.1 1072.3 L1714.1 1068.5 L1708.5 1065.5 L1702.5 1062.8 L1695.7 1060.2 L1688.6 1057.9 L1682.0 1056.2 L1676.5 1055.4 L1671.5 1055.2 L1665.9 1055.4 L1659.0 1056.0 L1651.5 1057.1 L1644.0 1058.4 L1636.7 1059.9 L1629.3 1061.6 L1622.0 1063.5 L1614.3 1065.8 L1606.6 1068.4 L1600.0 1070.7 L1596.0 1072.1 L1593.1 1073.3 L1588.3 1075.2 L1579.8 1078.6 L1569.4 1082.8 L1559.0 1086.9 L1549.2 1090.6 L1539.5 1094.1 L1529.7 1097.2 L1519.4 1099.9 L1509.1 1102.2 L1500.4 1103.8 L1494.4 1104.6 L1490.1 1104.7 L1485.8 1104.5 L1480.9 1104.2 L1476.0 1103.6 L1471.1 1102.7 L1466.2 1101.6 L1461.4 1100.2 L1456.5 1098.6 L1451.6 1096.9 L1446.7 1095.0 L1441.8 1092.8 L1436.9 1090.2 L1432.1 1087.3 L1427.2 1084.0 L1422.3 1080.4 L1417.4 1076.5 L1412.5 1072.3 L1407.7 1067.7 L1403.0 1062.8 L1397.9 1057.6 L1392.1 1051.7 L1386.0 1045.5 L1380.3 1040.0 L1375.5 1035.6 L1371.3 1031.9 L1367.0 1028.5 L1362.7 1025.2 L1358.4 1022.2 L1354.0 1019.5 L1349.3 1017.1 L1344.6 1014.9 L1340.0 1013.0 L1335.3 1011.2 L1330.8 1009.7 L1327.6 1008.6 L1327.6 1008.6 L1756.0 900.0 L1759.1 901.2 L1763.5 902.9 L1768.6 904.9 L1774.1 907.1 L1779.4 909.3 L1784.0 911.3 L1788.1 913.2 L1792.0 915.2 L1795.8 917.2 L1799.3 919.2 L1802.8 921.1 L1806.0 923.0 L1809.0 924.7 L1811.6 926.1 L1814.1 927.5 L1816.6 929.1 L1819.1 930.9 L1822.0 933.2 L1825.2 936.1 L1828.7 939.4 L1832.3 943.0 L1835.9 946.7 L1839.4 950.3 L1842.5 953.7 L1845.3 956.7 L1847.8 959.6 L1850.2 962.3 L1852.5 965.1 L1854.8 968.1 L1857.2 971.3 L1859.7 974.9 L1862.3 978.9 L1865.0 983.0 L1867.5 987.1 L1869.8 991.1 L1871.8 994.8 L1873.5 998.3 L1875.0 1001.6 L1876.2 1004.8 L1877.3 1007.8 L1878.3 1010.8 L1879.2 1013.8 L1880.0 1016.7 L1880.7 1019.4 L1881.3 1022.0 L1881.8 1024.6 L1882.2 1027.3 L1882.4 1030.0 L1882.5 1032.8 L1882.5 1035.5 L1882.4 1038.3 L1882.2 1041.2 L1881.9 1044.0 L1881.5 1047.0 L1881.0 1050.0 L1880.4 1053.1 L1879.7 1056.2 L1878.9 1059.4 L1878.0 1062.7 L1877.0 1066.0 L1875.8 1069.5 L1874.4 1073.3 L1872.9 1077.1 L1871.4 1080.8 L1870.1 1084.1 L1869.0 1087.0 L1868.2 1089.3 L1867.5 1091.3 L1867.0 1093.0 L1866.5 1094.4 L1866.2 1095.5 L1865.9 1096.4 L1811.0 1109.6Z" fill="url(#gIn)" />
<path d="M1497.8 1048.3 L1497.6 1038.9 L1496.9 1030.0 L1495.8 1021.9 L1494.1 1014.6 L1492.0 1008.2 L1489.2 1002.8 L1485.9 998.6 L1481.9 995.4 L1477.1 993.5 L1471.5 992.6 L1465.2 992.9 L1458.1 994.3 L1450.4 996.7 L1442.2 1000.2 L1433.8 1004.6 L1425.2 1010.1 L1417.0 1016.4 L1409.2 1023.5 L1402.1 1031.4 L1396.1 1039.9 L1391.2 1048.9 L1387.5 1058.3 L1385.3 1067.9 L1384.6 1077.6 L1385.3 1087.2 L1387.5 1096.5 L1391.2 1105.4 L1396.1 1113.8 L1402.1 1121.3 L1409.2 1128.0 L1417.0 1133.6 L1425.2 1138.0 L1433.8 1141.2 L1442.2 1142.9 L1450.4 1143.2 L1458.1 1142.0 L1465.2 1139.4 L1471.5 1135.3 L1477.1 1130.0 L1481.9 1123.4 L1485.9 1115.8 L1489.2 1107.3 L1492.0 1098.1 L1494.1 1088.4 L1495.8 1078.4 L1496.9 1068.3 L1497.6 1058.2Z" fill="#c6d6d3" stroke="#1f3134" stroke-width="0.9" />
<g clip-path="url(#cHole)"><path d="M1429.6 1030.4 L1429.1 1021.8 L1427.8 1013.5 L1425.7 1005.7 L1422.7 998.6 L1419.0 992.3 L1414.5 986.8 L1409.5 982.3 L1403.9 978.9 L1397.8 976.6 L1391.4 975.4 L1384.8 975.4 L1378.1 976.5 L1371.4 978.9 L1364.8 982.3 L1358.4 986.7 L1352.4 992.2 L1346.8 998.5 L1341.7 1005.6 L1337.3 1013.4 L1333.6 1021.6 L1330.6 1030.3 L1328.4 1039.2 L1327.1 1048.1 L1326.7 1057.0 L1327.1 1065.7 L1328.4 1073.9 L1330.6 1081.7 L1333.6 1088.8 L1337.3 1095.1 L1341.7 1100.6 L1346.8 1105.1 L1352.4 1108.5 L1358.4 1110.9 L1364.8 1112.0 L1371.4 1112.0 L1378.1 1110.9 L1384.8 1108.6 L1391.4 1105.1 L1397.8 1100.7 L1403.9 1095.2 L1409.5 1088.9 L1414.5 1081.8 L1419.0 1074.1 L1422.7 1065.8 L1425.7 1057.1 L1427.8 1048.3 L1429.1 1039.3Z" fill="#ffffff" stroke="#1f3134" stroke-width="0.8" /></g>
<path d="M1477.0 1117.6 L1480.9 1110.7 L1484.2 1103.1 L1486.8 1094.8 L1489.0 1086.0 L1490.6 1077.0 L1491.7 1067.8 L1492.4 1058.6 L1492.6 1049.7 L1492.4 1041.1 L1491.7 1033.0 L1490.6 1025.6 L1489.0 1018.9 L1486.8 1013.0 L1484.2 1008.1 L1480.9 1004.1" fill="none" stroke="#4f6264" stroke-width="0.7" />
<path d="M1386.0 992.0 L1383.3 992.7 L1380.6 993.4 L1377.9 994.3 L1375.3 995.4 L1372.8 996.5 L1370.2 997.8 L1367.8 999.3 L1365.4 1000.8 L1363.0 1002.5 L1360.7 1004.3 L1358.4 1006.3 L1356.3 1008.3 L1354.1 1010.5 L1352.1 1012.8 L1350.1 1015.2 L1348.2 1017.7 L1346.3 1020.4 L1344.6 1023.1 L1342.9 1026.0 L1341.3 1028.9 L1339.8 1031.9 L1338.3 1035.1 L1336.9 1038.3 L1335.7 1041.6 L1334.5 1045.0 L1333.4 1048.5 L1332.4 1052.1 L1331.4 1055.7 L1330.6 1059.4 L1329.8 1063.1 L1329.2 1067.0 L1328.6 1070.8 L1328.2 1074.8 L1327.8 1078.7 L1327.5 1082.8 L1327.4 1086.8 L1327.3 1090.9 L1327.3 1095.0 L1327.4 1099.2 L1327.6 1103.4 L1327.9 1107.6 L1328.3 1111.8 L1328.8 1116.0 L1329.4 1120.2 L1330.1 1124.4 L1330.8 1128.6 L1331.7 1132.8 L1332.6 1137.0" fill="none" stroke="#4f6264" stroke-width="0.8" />
<path d="M1621.4 931.3 L1618.6 931.9 L1616.0 932.7 L1613.3 933.6 L1610.7 934.6 L1608.1 935.8 L1605.6 937.1 L1603.1 938.5 L1600.7 940.1 L1598.4 941.7 L1596.1 943.6 L1593.8 945.5 L1591.6 947.6 L1589.5 949.7 L1587.4 952.0 L1585.5 954.4 L1583.5 957.0 L1581.7 959.6 L1579.9 962.3 L1578.3 965.2 L1576.6 968.1 L1575.1 971.2 L1573.7 974.3 L1572.3 977.5 L1571.0 980.8 L1569.8 984.2 L1568.7 987.7 L1567.7 991.3 L1566.8 994.9 L1566.0 998.6 L1565.2 1002.3 L1564.6 1006.2 L1564.0 1010.0 L1563.5 1014.0 L1563.2 1017.9 L1562.9 1022.0 L1562.7 1026.0 L1562.6 1030.1 L1562.7 1034.3 L1562.8 1038.4 L1563.0 1042.6 L1563.3 1046.8 L1563.7 1051.0 L1564.2 1055.2 L1564.7 1059.4 L1565.4 1063.6 L1566.2 1067.8 L1567.0 1072.0 L1568.0 1076.2" fill="none" stroke="#4f6264" stroke-width="0.8" />
<path d="M1834.1 927.7 L1829.7 923.0 L1825.2 918.6 L1820.6 914.5 L1815.8 910.8 L1811.0 907.5 L1806.1 904.5 L1801.2 901.8 L1796.2 899.6 L1791.2 897.8 L1786.2 896.3 L1781.2 895.3 L1776.2 894.6 L1771.3 894.4 L1766.4 894.6 L1761.6 895.2 L1756.9 896.2 L1752.3 897.6 L1747.9 899.4 L1743.5 901.6 L1739.3 904.1 L1735.3 907.1 L1731.4 910.4 L1727.7 914.1 L1724.3 918.1 L1721.0 922.4 L1717.9 927.1 L1715.1 932.1 L1712.5 937.4 L1710.1 942.9 L1708.1 948.7 L1706.2 954.7 L1704.6 961.0 L1703.3 967.4 L1702.3 974.0 L1701.6 980.8 L1701.1 987.7 L1700.9 994.7 L1701.0 1001.9 L1701.4 1009.0 L1702.1 1016.3 L1703.0 1023.5 L1704.2 1030.7 L1705.7 1038.0 L1707.4 1045.1 L1709.4 1052.2 L1711.7 1059.2 L1714.2 1066.1 L1717.0 1072.9 L1831.2 1043.4 L1828.5 1036.6 L1825.9 1029.7 L1823.7 1022.7 L1821.7 1015.6 L1819.9 1008.5 L1818.4 1001.2 L1817.2 994.0 L1816.3 986.8 L1815.6 979.5 L1815.2 972.4 L1815.1 965.2 L1815.3 958.2 L1815.8 951.3 L1816.5 944.5 L1817.6 937.9 L1818.9 931.5 L1820.4 925.2 L1822.3 919.2 L1824.4 913.4 L1826.7 907.9 L1829.3 902.6 L1832.1 897.6 L1835.2 892.9 L1838.5 888.6 L1842.0 884.6 L1845.6 880.9 L1849.5 877.6 L1853.5 874.6 L1857.7 872.1 L1862.1 869.9 L1866.6 868.1 L1871.2 866.7 L1875.9 865.7 L1880.7 865.1 L1885.5 864.9 L1890.4 865.1 L1895.4 865.8 L1900.4 866.8 L1905.4 868.3 L1910.4 870.1 L1915.4 872.3 L1920.3 875.0 L1925.2 878.0 L1930.1 881.3 L1934.8 885.0 L1939.4 889.1 L1944.0 893.5 L1948.4 898.2Z" fill="#dcebe9" stroke="#4f6264" stroke-width="0.7" />
<path d="M1214.5 1083.1 L1211.2 1084.1 L1207.9 1085.5 L1204.8 1087.2 L1201.8 1089.3 L1199.0 1091.6 L1196.3 1094.3 L1193.7 1097.2 L1191.4 1100.5 L1189.2 1104.0 L1187.3 1107.7 L1185.5 1111.7 L1184.0 1115.9 L1182.6 1120.3 L1181.5 1124.9 L1180.7 1129.7 L1180.0 1134.6 L1179.6 1139.6 L1179.4 1144.7 L1179.5 1149.9 L1179.8 1155.1 L1180.4 1160.4 L1181.2 1165.7 L1182.2 1171.0 L1183.4 1176.2 L1184.9 1181.4 L1186.6 1186.5 L1188.5 1191.5 L1190.6 1196.4 L1192.8 1201.1 L1195.3 1205.7 L1197.9 1210.0 L1200.7 1214.2 L1203.7 1218.2 L1206.8 1221.9 L1210.0 1225.4 L1213.3 1228.6 L1216.7 1231.5 L1220.1 1234.1 L1223.7 1236.4 L1227.3 1238.4 L1230.9 1240.1 L1234.6 1241.5 L1238.2 1242.5 L1241.9 1243.1 L1245.5 1243.5 L1249.0 1243.4 L1252.5 1243.1 L1256.0 1242.4 L1837.6 1095.6 L1840.9 1094.6 L1844.1 1093.2 L1847.3 1091.5 L1850.3 1089.4 L1853.1 1087.1 L1855.8 1084.4 L1858.3 1081.5 L1860.7 1078.2 L1862.9 1074.7 L1864.8 1071.0 L1866.6 1067.0 L1868.1 1062.8 L1869.5 1058.4 L1870.6 1053.8 L1871.4 1049.0 L1872.1 1044.1 L1872.5 1039.1 L1872.6 1034.0 L1872.6 1028.8 L1872.2 1023.6 L1871.7 1018.3 L1870.9 1013.0 L1869.9 1007.7 L1868.6 1002.5 L1867.2 997.3 L1865.5 992.2 L1863.6 987.2 L1861.5 982.3 L1859.2 977.6 L1856.8 973.0 L1854.1 968.7 L1851.3 964.5 L1848.4 960.5 L1845.3 956.8 L1842.1 953.3 L1838.8 950.1 L1835.4 947.2 L1831.9 944.6 L1828.4 942.3 L1824.8 940.3 L1821.2 938.6 L1817.5 937.2 L1813.9 936.2 L1810.2 935.6 L1806.6 935.2 L1803.1 935.3 L1799.6 935.6 L1796.1 936.4Z" fill="url(#gTube)" stroke="#1f3134" stroke-width="0.9" />
<path d="M1837.6 1095.6 L1840.9 1094.6 L1844.1 1093.2 L1847.3 1091.5 L1850.3 1089.4 L1853.1 1087.1 L1855.8 1084.4 L1858.3 1081.5 L1860.7 1078.2 L1862.9 1074.7 L1864.8 1071.0 L1866.6 1067.0 L1868.1 1062.8 L1869.5 1058.4 L1870.6 1053.8 L1871.4 1049.0 L1872.1 1044.1 L1872.5 1039.1 L1872.6 1034.0 L1872.6 1028.8 L1872.2 1023.6 L1871.7 1018.3 L1870.9 1013.0 L1869.9 1007.7 L1868.6 1002.5 L1867.2 997.3 L1865.5 992.2 L1863.6 987.2 L1861.5 982.3 L1859.2 977.6 L1856.8 973.0 L1854.1 968.7 L1851.3 964.5 L1848.4 960.5 L1845.3 956.8 L1842.1 953.3 L1838.8 950.1 L1835.4 947.2 L1831.9 944.6 L1828.4 942.3 L1824.8 940.3 L1821.2 938.6 L1817.5 937.2 L1813.9 936.2 L1810.2 935.6 L1806.6 935.2 L1803.1 935.3 L1799.6 935.6 L1796.1 936.4 L1783.5 939.6 L1787.0 938.9 L1790.5 938.5 L1794.0 938.5 L1797.6 938.8 L1801.3 939.5 L1804.9 940.5 L1808.6 941.8 L1812.2 943.5 L1815.8 945.5 L1819.4 947.8 L1822.8 950.5 L1826.2 953.4 L1829.5 956.6 L1832.7 960.0 L1835.8 963.8 L1838.8 967.7 L1841.6 971.9 L1844.2 976.3 L1846.7 980.9 L1848.9 985.6 L1851.0 990.5 L1852.9 995.5 L1854.6 1000.6 L1856.1 1005.7 L1857.3 1011.0 L1858.3 1016.3 L1859.1 1021.5 L1859.7 1026.8 L1860.0 1032.1 L1860.1 1037.2 L1859.9 1042.4 L1859.5 1047.4 L1858.8 1052.3 L1858.0 1057.0 L1856.9 1061.6 L1855.5 1066.0 L1854.0 1070.2 L1852.2 1074.2 L1850.3 1078.0 L1848.1 1081.5 L1845.8 1084.7 L1843.2 1087.7 L1840.5 1090.3 L1837.7 1092.7 L1834.7 1094.7 L1831.6 1096.5 L1828.3 1097.8 L1825.0 1098.9Z" fill="#cbc6c1" stroke="#5a6668" stroke-width="0.6" />
</g>
<path d="M1221.5 1030.3 L1216.0 1032.1 L1210.7 1034.3 L1205.5 1037.2 L1200.6 1040.5 L1196.0 1044.4 L1191.5 1048.8 L1187.4 1053.6 L1183.5 1058.9 L1180.0 1064.7 L1176.8 1070.8 L1173.9 1077.4 L1171.3 1084.3 L1169.2 1091.5 L1167.4 1099.0 L1165.9 1106.8 L1164.9 1114.8 L1164.2 1123.1 L1163.9 1131.5 L1164.1 1140.0 L1164.6 1148.6 L1165.5 1157.2 L1166.8 1165.9 L1168.4 1174.5 L1170.5 1183.1 L1172.9 1191.6 L1175.6 1200.0 L1178.7 1208.2 L1182.2 1216.2 L1185.9 1224.0 L1190.0 1231.5 L1194.3 1238.6 L1198.9 1245.5 L1203.7 1252.0 L1208.7 1258.1 L1214.0 1263.8 L1219.4 1269.0 L1225.0 1273.8 L1230.7 1278.1 L1236.5 1281.9 L1242.4 1285.2 L1248.4 1288.0 L1254.3 1290.2 L1260.3 1291.8 L1266.3 1292.9 L1272.2 1293.4 L1278.1 1293.4 L1283.8 1292.8 L1289.5 1291.6 L1857.9 1144.8 L1863.4 1143.1 L1868.7 1140.8 L1873.9 1138.0 L1878.8 1134.6 L1883.4 1130.8 L1887.9 1126.4 L1892.0 1121.5 L1895.9 1116.2 L1899.4 1110.5 L1902.6 1104.3 L1905.5 1097.8 L1908.1 1090.9 L1910.2 1083.6 L1912.1 1076.1 L1913.5 1068.3 L1914.5 1060.3 L1915.2 1052.1 L1915.5 1043.7 L1915.3 1035.2 L1914.8 1026.6 L1913.9 1017.9 L1912.6 1009.3 L1911.0 1000.6 L1908.9 992.0 L1906.5 983.5 L1903.8 975.1 L1900.7 966.9 L1897.2 959.0 L1893.5 951.2 L1889.4 943.7 L1885.1 936.5 L1880.5 929.7 L1875.7 923.2 L1870.7 917.1 L1865.4 911.4 L1860.0 906.1 L1854.4 901.3 L1848.7 897.0 L1842.9 893.2 L1837.0 889.9 L1831.0 887.2 L1825.1 885.0 L1819.1 883.3 L1813.1 882.2 L1807.2 881.7 L1801.3 881.7 L1795.6 882.4 L1789.9 883.5Z M1802.1 1135.3 L1798.7 1134.3 L1793.9 1132.9 L1789.0 1130.9 L1784.7 1128.2 L1780.3 1125.0 L1775.8 1121.4 L1771.2 1117.8 L1766.5 1113.8 L1761.1 1108.9 L1754.7 1102.5 L1747.6 1095.2 L1740.6 1088.4 L1733.7 1082.5 L1726.7 1077.0 L1720.1 1072.3 L1714.1 1068.5 L1708.5 1065.5 L1702.5 1062.8 L1695.7 1060.2 L1688.6 1057.9 L1682.0 1056.2 L1676.5 1055.4 L1671.5 1055.2 L1665.9 1055.4 L1659.0 1056.0 L1651.5 1057.1 L1644.0 1058.4 L1636.7 1059.9 L1629.3 1061.6 L1622.0 1063.5 L1614.3 1065.8 L1606.6 1068.4 L1600.0 1070.7 L1596.0 1072.1 L1593.1 1073.3 L1588.3 1075.2 L1579.8 1078.6 L1569.4 1082.8 L1559.0 1086.9 L1549.2 1090.6 L1539.5 1094.1 L1529.7 1097.2 L1519.4 1099.9 L1509.1 1102.2 L1500.4 1103.8 L1494.4 1104.6 L1490.1 1104.7 L1485.8 1104.5 L1480.9 1104.2 L1476.0 1103.6 L1471.1 1102.7 L1466.2 1101.6 L1461.4 1100.2 L1456.5 1098.6 L1451.6 1096.9 L1446.7 1095.0 L1441.8 1092.8 L1436.9 1090.2 L1432.1 1087.3 L1427.2 1084.0 L1422.3 1080.4 L1417.4 1076.5 L1412.5 1072.3 L1407.7 1067.7 L1403.0 1062.8 L1397.9 1057.6 L1392.1 1051.7 L1386.0 1045.5 L1380.3 1040.0 L1375.5 1035.6 L1371.3 1031.9 L1367.0 1028.5 L1362.7 1025.2 L1358.4 1022.2 L1354.0 1019.5 L1349.3 1017.1 L1344.6 1014.9 L1340.0 1013.0 L1335.3 1011.2 L1330.8 1009.7 L1327.6 1008.6 L1327.6 1008.6 L1756.0 900.0 L1759.1 901.2 L1763.5 902.9 L1768.6 904.9 L1774.1 907.1 L1779.4 909.3 L1784.0 911.3 L1788.1 913.2 L1792.0 915.2 L1795.8 917.2 L1799.3 919.2 L1802.8 921.1 L1806.0 923.0 L1809.0 924.7 L1811.6 926.1 L1814.1 927.5 L1816.6 929.1 L1819.1 930.9 L1822.0 933.2 L1825.2 936.1 L1828.7 939.4 L1832.3 943.0 L1835.9 946.7 L1839.4 950.3 L1842.5 953.7 L1845.3 956.7 L1847.8 959.6 L1850.2 962.3 L1852.5 965.1 L1854.8 968.1 L1857.2 971.3 L1859.7 974.9 L1862.3 978.9 L1865.0 983.0 L1867.5 987.1 L1869.8 991.1 L1871.8 994.8 L1873.5 998.3 L1875.0 1001.6 L1876.2 1004.8 L1877.3 1007.8 L1878.3 1010.8 L1879.2 1013.8 L1880.0 1016.7 L1880.7 1019.4 L1881.3 1022.0 L1881.8 1024.6 L1882.2 1027.3 L1882.4 1030.0 L1882.5 1032.8 L1882.5 1035.5 L1882.4 1038.3 L1882.2 1041.2 L1881.9 1044.0 L1881.5 1047.0 L1881.0 1050.0 L1880.4 1053.1 L1879.7 1056.2 L1878.9 1059.4 L1878.0 1062.7 L1877.0 1066.0 L1875.8 1069.5 L1874.4 1073.3 L1872.9 1077.1 L1871.4 1080.8 L1870.1 1084.1 L1869.0 1087.0 L1868.2 1089.3 L1867.5 1091.3 L1867.0 1093.0 L1866.5 1094.4 L1866.2 1095.5 L1865.9 1096.4 L1811.0 1109.6Z" fill="url(#gShell)" fill-rule="evenodd" stroke="#1f3134" stroke-width="1.25"/>
<path d="M1327.6 1008.6 L1756.0 900.0 L1757.5 904.5 L1329.0 1013.2Z" fill="#f7fcfb" stroke="#1f3134" stroke-width="0.6" />
<path d="M1340.8 1010.8 L1345.4 1012.7 L1350.1 1014.9 L1354.8 1017.3 L1359.2 1020.0 L1363.5 1023.0 L1367.8 1026.3 L1372.1 1029.7 L1376.3 1033.4 L1381.1 1037.8 L1386.8 1043.3 L1392.9 1049.5 L1398.7 1055.4 L1403.8 1060.6 L1408.5 1065.5 L1413.3 1070.1 L1418.2 1074.3 L1423.1 1078.2 L1428.0 1081.8 L1432.9 1085.1 L1437.7 1088.0 L1442.6 1090.6 L1447.5 1092.8 L1452.4 1094.7 L1457.3 1096.4 L1462.2 1098.0 L1467.0 1099.4 L1471.9 1100.5 L1476.8 1101.4 L1481.7 1102.0 L1486.6 1102.3 L1490.9 1102.5 L1495.2 1102.4 L1501.2 1101.6 L1509.9 1100.0 L1520.2 1097.7 L1530.5 1095.0 L1540.3 1091.9 L1550.0 1088.4 L1559.8 1084.7 L1570.2 1080.6 L1580.6 1076.4 L1589.1 1073.0 L1593.9 1071.1 L1596.8 1069.9 L1600.8 1068.5 L1607.4 1066.2 L1615.1 1063.6 L1622.8 1061.3 L1630.1 1059.4 L1637.5 1057.7 L1644.8 1056.2 L1652.3 1054.9 L1659.8 1053.8 L1666.7 1053.2 L1672.3 1053.0 L1677.3 1053.2 L1682.8 1054.0 L1689.4 1055.7 L1696.5 1058.0 L1703.3 1060.6 L1709.3 1063.3 L1714.9 1066.3 L1720.9 1070.1 L1727.5 1074.8 L1734.5 1080.3 L1741.4 1086.2 L1748.4 1093.0 L1755.5 1100.3 L1761.9 1106.7 L1767.3 1111.6 L1772.0 1115.6 L1776.6 1119.2 L1781.1 1122.8 L1785.5 1126.0 L1789.8 1128.7 L1794.7 1130.7 L1799.5 1132.1 L1802.9 1133.1" fill="none" stroke="#1f3134" stroke-width="0.6" />
<path d="M1762.6 900.2 L1767.0 901.9 L1772.1 903.9 L1777.6 906.1 L1782.9 908.3 L1787.5 910.3 L1791.6 912.2 L1795.5 914.2 L1799.2 916.2 L1802.8 918.2 L1806.2 920.1 L1809.5 922.0 L1812.5 923.7 L1815.1 925.1 L1817.6 926.5 L1820.1 928.1 L1822.6 929.9 L1825.5 932.2 L1828.7 935.1 L1832.2 938.4 L1835.8 942.0 L1839.4 945.7 L1842.9 949.3 L1846.0 952.7 L1848.8 955.7 L1851.3 958.6 L1853.7 961.3 L1856.0 964.1 L1858.3 967.1 L1860.7 970.3 L1863.2 973.9 L1865.8 977.9 L1868.5 982.0 L1871.0 986.1 L1873.3 990.1 L1875.3 993.8 L1877.0 997.3 L1878.5 1000.6 L1879.7 1003.8 L1880.8 1006.8 L1881.8 1009.8 L1882.7 1012.8 L1883.5 1015.7 L1884.2 1018.4 L1884.8 1021.0 L1885.3 1023.6 L1885.7 1026.3 L1885.9 1029.0 L1886.0 1031.8 L1886.0 1034.5 L1885.9 1037.3 L1885.7 1040.2 L1885.4 1043.0 L1885.0 1046.0 L1884.5 1049.0 L1883.9 1052.1 L1883.2 1055.2 L1882.4 1058.4 L1881.5 1061.7 L1880.5 1065.0 L1879.3 1068.5 L1877.9 1072.3 L1876.4 1076.1 L1874.9 1079.8 L1873.6 1083.1 L1872.5 1086.0 L1871.7 1088.3 L1871.0 1090.3 L1870.5 1092.0 L1870.0 1093.4 L1869.7 1094.5 L1869.4 1095.4" fill="none" stroke="#1f3134" stroke-width="0.6" />
<g clip-path="url(#cShell)">
<path d="M1450.1 1250.1 L1455.6 1248.4 L1460.9 1246.1 L1466.0 1243.3 L1470.9 1240.0 L1475.6 1236.1 L1480.0 1231.7 L1484.2 1226.9 L1488.0 1221.6 L1491.6 1215.8 L1494.8 1209.7 L1497.7 1203.1 L1500.2 1196.2 L1502.4 1189.0 L1504.2 1181.5 L1505.6 1173.7 L1506.7 1165.6 L1507.3 1157.4 L1507.6 1149.0 L1507.5 1140.5 L1507.0 1131.9 L1506.1 1123.3 L1504.8 1114.6 L1503.1 1105.9 L1501.1 1097.3 L1498.7 1088.8 L1495.9 1080.5 L1492.8 1072.3 L1489.4 1064.3 L1485.6 1056.5 L1481.6 1049.0 L1477.3 1041.8 L1472.7 1035.0 L1467.9 1028.5 L1462.8 1022.4 L1457.6 1016.7 L1452.2 1011.4 L1446.6 1006.7 L1440.9 1002.4 L1435.0 998.6 L1429.1 995.3 L1423.2 992.5 L1417.2 990.3 L1411.2 988.7 L1405.3 987.6 L1399.3 987.0 L1393.5 987.1 L1387.7 987.7 L1382.1 988.9" fill="none" stroke="#1f3134" stroke-width="1.25" />
<path d="M1685.4 1189.4 L1690.9 1187.6 L1696.2 1185.4 L1701.4 1182.5 L1706.3 1179.2 L1711.0 1175.3 L1715.4 1170.9 L1719.5 1166.1 L1723.4 1160.8 L1726.9 1155.0 L1730.2 1148.9 L1733.0 1142.3 L1735.6 1135.4 L1737.8 1128.2 L1739.6 1120.7 L1741.0 1112.9 L1742.0 1104.8 L1742.7 1096.6 L1743.0 1088.2 L1742.9 1079.7 L1742.3 1071.1 L1741.4 1062.5 L1740.1 1053.8 L1738.5 1045.1 L1736.4 1036.6 L1734.0 1028.1 L1731.3 1019.7 L1728.2 1011.5 L1724.7 1003.5 L1721.0 995.7 L1717.0 988.2 L1712.6 981.1 L1708.1 974.2 L1703.2 967.7 L1698.2 961.6 L1692.9 955.9 L1687.5 950.7 L1681.9 945.9 L1676.2 941.6 L1670.4 937.8 L1664.5 934.5 L1658.6 931.7 L1652.6 929.5 L1646.6 927.9 L1640.6 926.8 L1634.7 926.3 L1628.8 926.3 L1623.1 926.9 L1617.5 928.1" fill="none" stroke="#1f3134" stroke-width="1.25" />
</g>
<path d="M1855.7 1145.4 L1861.2 1143.7 L1866.5 1141.4 L1871.6 1138.6 L1876.6 1135.2 L1881.2 1131.3 L1885.7 1127.0 L1889.8 1122.1 L1893.7 1116.8 L1897.2 1111.1 L1900.4 1104.9 L1903.3 1098.4 L1905.9 1091.5 L1908.0 1084.2 L1909.8 1076.7 L1911.3 1068.9 L1912.3 1060.9 L1913.0 1052.6 L1913.3 1044.3 L1913.1 1035.8 L1912.6 1027.1 L1911.7 1018.5 L1910.4 1009.8 L1908.8 1001.2 L1906.7 992.6 L1904.3 984.1 L1901.5 975.7 L1898.4 967.5 L1895.0 959.5 L1891.3 951.8 L1887.2 944.3 L1882.9 937.1 L1878.3 930.2 L1873.5 923.7 L1868.5 917.6 L1863.2 911.9 L1857.8 906.7 L1852.2 901.9 L1846.5 897.6 L1840.7 893.8 L1834.8 890.5 L1828.8 887.8 L1822.8 885.6 L1816.9 883.9 L1810.9 882.8 L1805.0 882.3 L1799.1 882.3 L1793.4 882.9 L1787.7 884.1" fill="none" stroke="#1f3134" stroke-width="1.25" />
<path d="M1187.2 1000.8 L1189.1 992.6 L1200.2 955.8 L1203.0 947.2 L1207.2 940.3 L1213.2 937.3 L1219.2 936.6 L1225.2 937.8 L1231.2 941.8 L1236.2 947.8 L1241.1 954.5 L1246.2 968.8 L1255.8 1007.8 L1259.2 1020.8 L1203.2 1030.8Z" fill="#a9bcbe" stroke="#1f3134" stroke-width="0.9" />
<path d="M1184.0 1000.0 L1185.9 991.8 L1197.0 955.0 L1199.8 946.4 L1204.0 939.5 L1210.0 936.5 L1216.0 935.8 L1222.0 937.0 L1228.0 941.0 L1233.0 947.0 L1237.9 953.7 L1243.0 968.0 L1252.6 1007.0 L1256.0 1020.0 L1200.0 1030.0Z" fill="#bccfd1" stroke="#1f3134" stroke-width="1.25" />
<ellipse cx="1220.3" cy="965.5" rx="12.3" ry="16.6" transform="rotate(-12 1220.3 965.5)" fill="#ffffff" stroke="#1f3134" stroke-width="1.25"/>
<path d="M1209.5 972 A11 15 -12 0 1 1214 951.5" fill="none" stroke="#8fa3a6" stroke-width="2.2" opacity="0.55"/>
<path d="M1287.2 1332.1 L1294.4 1329.8 L1301.4 1326.8 L1308.1 1323.1 L1314.6 1318.7 L1320.7 1313.6 L1326.5 1307.9 L1331.9 1301.6 L1337.0 1294.6 L1341.6 1287.1 L1345.9 1279.0 L1349.7 1270.4 L1353.0 1261.4 L1355.8 1251.9 L1358.2 1242.0 L1360.1 1231.8 L1361.5 1221.3 L1362.3 1210.5 L1362.7 1199.5 L1362.5 1188.3 L1361.8 1177.1 L1360.7 1165.7 L1359.0 1154.3 L1356.8 1143.0 L1354.1 1131.7 L1351.0 1120.6 L1347.3 1109.6 L1343.3 1098.9 L1338.8 1088.4 L1333.9 1078.2 L1328.6 1068.4 L1322.9 1059.0 L1316.9 1050.0 L1310.6 1041.5 L1304.0 1033.5 L1297.1 1026.0 L1290.0 1019.1 L1282.6 1012.8 L1275.2 1007.2 L1267.5 1002.2 L1259.8 997.9 L1252.0 994.3 L1244.1 991.4 L1236.3 989.2 L1228.5 987.8 L1220.7 987.1 L1213.0 987.2 L1205.5 988.0 L1198.1 989.5 L1221.5 1030.3 L1227.1 1029.2 L1232.9 1028.6 L1238.7 1028.5 L1244.6 1029.1 L1250.6 1030.1 L1256.6 1031.8 L1262.6 1034.0 L1268.5 1036.8 L1274.4 1040.0 L1280.2 1043.8 L1285.9 1048.1 L1291.5 1052.9 L1296.9 1058.2 L1302.2 1063.9 L1307.2 1070.0 L1312.1 1076.5 L1316.7 1083.3 L1321.0 1090.5 L1325.0 1098.0 L1328.8 1105.8 L1332.2 1113.8 L1335.3 1122.0 L1338.0 1130.3 L1340.5 1138.8 L1342.5 1147.4 L1344.2 1156.1 L1345.4 1164.7 L1346.4 1173.4 L1346.9 1182.0 L1347.0 1190.5 L1346.7 1198.9 L1346.1 1207.1 L1345.0 1215.1 L1343.6 1222.9 L1341.8 1230.5 L1339.6 1237.7 L1337.1 1244.6 L1334.2 1251.1 L1330.9 1257.3 L1327.4 1263.0 L1323.5 1268.4 L1319.4 1273.2 L1315.0 1277.6 L1310.3 1281.4 L1305.4 1284.8 L1300.3 1287.6 L1294.9 1289.9 L1289.5 1291.6Z" fill="url(#gFl)" stroke="#1f3134" stroke-width="1.25" />
<path d="M1162.4 998.7 L1155.2 1001.0 L1148.3 1004.0 L1141.6 1007.7 L1135.1 1012.1 L1129.0 1017.1 L1123.2 1022.9 L1117.7 1029.2 L1112.7 1036.2 L1108.0 1043.7 L1103.8 1051.8 L1100.0 1060.4 L1096.7 1069.4 L1093.8 1078.9 L1091.5 1088.8 L1089.6 1099.0 L1088.2 1109.5 L1087.4 1120.3 L1087.0 1131.3 L1087.2 1142.4 L1087.8 1153.7 L1089.0 1165.1 L1090.7 1176.4 L1092.9 1187.8 L1095.6 1199.1 L1098.7 1210.2 L1102.3 1221.2 L1106.4 1231.9 L1110.9 1242.4 L1115.8 1252.6 L1121.1 1262.4 L1126.8 1271.8 L1132.8 1280.8 L1139.1 1289.3 L1145.7 1297.3 L1152.6 1304.8 L1159.7 1311.7 L1167.0 1317.9 L1174.5 1323.6 L1182.2 1328.6 L1189.9 1332.9 L1197.7 1336.5 L1205.5 1339.4 L1213.4 1341.5 L1221.2 1343.0 L1229.0 1343.7 L1236.6 1343.6 L1244.2 1342.8 L1251.6 1341.3 L1287.2 1332.1 L1294.4 1329.8 L1301.4 1326.8 L1308.1 1323.1 L1314.6 1318.7 L1320.7 1313.6 L1326.5 1307.9 L1331.9 1301.6 L1337.0 1294.6 L1341.6 1287.1 L1345.9 1279.0 L1349.7 1270.4 L1353.0 1261.4 L1355.8 1251.9 L1358.2 1242.0 L1360.1 1231.8 L1361.5 1221.3 L1362.3 1210.5 L1362.7 1199.5 L1362.5 1188.3 L1361.8 1177.1 L1360.7 1165.7 L1359.0 1154.3 L1356.8 1143.0 L1354.1 1131.7 L1351.0 1120.6 L1347.3 1109.6 L1343.3 1098.9 L1338.8 1088.4 L1333.9 1078.2 L1328.6 1068.4 L1322.9 1059.0 L1316.9 1050.0 L1310.6 1041.5 L1304.0 1033.5 L1297.1 1026.0 L1290.0 1019.1 L1282.6 1012.8 L1275.2 1007.2 L1267.5 1002.2 L1259.8 997.9 L1252.0 994.3 L1244.1 991.4 L1236.3 989.2 L1228.5 987.8 L1220.7 987.1 L1213.0 987.2 L1205.5 988.0 L1198.1 989.5Z" fill="url(#gFl)" stroke="#1f3134" stroke-width="1.25" />
<ellipse cx="1207.0" cy="1170.0" rx="115.2" ry="177.0" transform="rotate(-14.5 1207.0 1170.0)" fill="#b5c8cb" stroke="#1f3134" stroke-width="1.25" />
<ellipse cx="1203.1" cy="1171.0" rx="87.2" ry="134.0" transform="rotate(-14.5 1203.1 1171.0)" fill="#b9cccf" stroke="#1f3134" stroke-width="1.25" />
<path d="M1418.9 1212.3 L1416.9 1218.6 L1414.7 1224.7 L1412.2 1230.5 L1409.4 1236.0 L1406.4 1241.2 L1403.2 1246.1 L1399.7 1250.6 L1396.0 1254.8 L1392.1 1258.6 L1388.0 1262.0 L1383.7 1265.0 L1379.2 1267.6 L1374.6 1269.8 L1369.9 1271.6 L1427.4 1256.7 L1432.1 1254.9 L1436.8 1252.7 L1441.2 1250.1 L1445.5 1247.1 L1449.6 1243.7 L1453.5 1239.9 L1457.2 1235.7 L1460.7 1231.2 L1464.0 1226.3 L1467.0 1221.1 L1469.7 1215.6 L1472.2 1209.8 L1474.5 1203.8 L1476.4 1197.4Z" fill="#b7c9ca" stroke="#1f3134" stroke-width="1.1" />
<path d="M1421.0 1216.9 L1418.7 1223.3 L1416.2 1229.3 L1413.3 1235.1 L1410.1 1240.5 L1406.7 1245.5 L1403.1 1250.2 L1399.2 1254.5 L1395.1 1258.4 L1390.7 1261.8 L1386.2 1264.8 L1381.5 1267.4 L1376.6 1269.5" fill="none" stroke="#1f3134" stroke-width="0.6" />
<path d="M1421.0 1216.9 L1471.8 1203.8" fill="none" stroke="#1f3134" stroke-width="0.6" />
<path d="M1418.0 1236.0 L1457.5 1225.0 L1460.0 1415.5 L1419.5 1425.0Z" fill="#d3e5e3" stroke="#1f3134" stroke-width="1.1" />
<path d="M1809.8 1137.5 L1848.5 1127.5 L1848.5 1318.8 L1811.0 1328.8Z" fill="#d3e5e3" stroke="#1f3134" stroke-width="1.1" />
<path d="M1811.0 1109.6 L1865.9 1096.4 L1862.0 1112.0 L1853.0 1128.0 L1848.5 1128.0 L1809.8 1138.0Z" fill="#b4c4c2" stroke="#1f3134" stroke-width="1.1" />
<path d="M1787.0 1112.0 L1800.0 1105.0 L1812.0 1108.0 L1808.0 1126.0 L1794.0 1131.0Z" fill="#b9cdd0" stroke="#1f3134" stroke-width="0.8" />
<path d="M1800.0 1105.0 L1815.0 1098.0 L1822.0 1101.0 L1812.0 1108.0Z" fill="#a9b9b7" stroke="#1f3134" stroke-width="0.8" />
<g transform="translate(1447,1270) rotate(-28)"><path d="M-15 -6 L8 -10 Q17 -6 16 4 L8 10 L-12 8 Z" fill="#a9bcc0" stroke="#1f3134" stroke-width="1.1"/><ellipse cx="3" cy="0" rx="6.5" ry="4.6" fill="#e8f3f2" stroke="#1f3134" stroke-width="1.1"/></g>
<g transform="translate(1837,1171) rotate(32)"><path d="M-17 -4 L6 -7 Q17 -3 17 3 L6 7 L-10 5 Z" fill="#8fa1a4" stroke="#1f3134" stroke-width="1.1"/><ellipse cx="4" cy="0" rx="6" ry="2.6" fill="#b9c9ca" stroke="#1f3134" stroke-width="0.8"/></g>
<path d="M1623.4 1102.3 L1636.6 1107.4 L1638.8 1127.9 L1624.2 1124.3Z" fill="#a9bdc2" stroke="#1f3134" stroke-width="0.8" />
<path d="M1638.8 1107.4 L1660.0 1101.6 L1660.8 1122.1 L1639.5 1127.9Z" fill="#ffffff" stroke="#1f3134" stroke-width="0.8" />
<path d="M1648.0 1096.5 L1651.0 1096.0 L1660.0 1101.6 L1657.0 1102.4Z" fill="#c5d6d7" stroke="#1f3134" stroke-width="0.7" />
<path d="M1290.1 1096.7 L1287.3 1091.3 L1284.4 1086.0 L1281.3 1080.9 L1278.2 1075.9 L1274.9 1071.0 L1271.5 1066.3 L1268.1 1061.7 L1264.5 1057.4 L1260.8 1053.1 L1257.1 1049.1 L1253.3 1045.3 L1249.4 1041.6 L1245.4 1038.2 L1241.4 1034.9 L1237.4 1031.9 L1233.2 1029.1 L1229.3 1050.2 L1232.8 1052.6 L1236.3 1055.2 L1239.7 1057.9 L1243.0 1060.9 L1246.3 1064.0 L1249.6 1067.3 L1252.8 1070.7 L1255.9 1074.3 L1258.9 1078.0 L1261.8 1081.8 L1264.7 1085.9 L1267.5 1090.0 L1270.2 1094.2 L1272.8 1098.6 L1275.3 1103.1 L1277.6 1107.7Z" fill="#bfd2d4" stroke="#1f3134" stroke-width="1.1" />
<path d="M1180.8 1013.0 L1177.1 1013.3 L1173.5 1013.8 L1169.9 1014.4 L1166.4 1015.3 L1162.9 1016.3 L1159.4 1017.5 L1156.1 1018.9 L1152.8 1020.5 L1149.5 1022.3 L1146.3 1024.2 L1143.2 1026.3 L1140.2 1028.6 L1137.3 1031.1 L1134.4 1033.8 L1131.6 1036.6 L1129.0 1039.5 L1140.7 1059.1 L1142.9 1056.6 L1145.3 1054.2 L1147.7 1051.9 L1150.2 1049.8 L1152.8 1047.9 L1155.4 1046.1 L1158.1 1044.4 L1160.9 1042.9 L1163.7 1041.6 L1166.6 1040.4 L1169.5 1039.3 L1172.5 1038.5 L1175.5 1037.7 L1178.5 1037.2 L1181.6 1036.8 L1184.7 1036.6Z" fill="#bfd2d4" stroke="#1f3134" stroke-width="1.1" />
<path d="M1129.0 1252.8 L1131.7 1257.6 L1134.6 1262.2 L1137.5 1266.7 L1140.6 1271.1 L1143.7 1275.4 L1146.9 1279.5 L1150.2 1283.5 L1153.6 1287.3 L1157.0 1291.0 L1160.5 1294.5 L1164.1 1297.9 L1167.7 1301.1 L1171.3 1304.1 L1175.1 1307.0 L1178.8 1309.6 L1182.6 1312.1 L1186.3 1290.8 L1183.0 1288.7 L1179.8 1286.4 L1176.7 1284.0 L1173.6 1281.4 L1170.5 1278.7 L1167.5 1275.8 L1164.5 1272.8 L1161.6 1269.7 L1158.7 1266.5 L1155.9 1263.1 L1153.2 1259.6 L1150.5 1255.9 L1148.0 1252.2 L1145.5 1248.4 L1143.0 1244.4 L1140.7 1240.4Z" fill="#bfd2d4" stroke="#1f3134" stroke-width="1.1" />
<path d="M1231.4 1327.0 L1235.2 1326.9 L1238.9 1326.5 L1242.7 1325.9 L1246.3 1325.1 L1249.9 1324.1 L1253.5 1322.9 L1257.0 1321.5 L1260.4 1319.9 L1263.8 1318.1 L1267.1 1316.2 L1270.3 1314.0 L1273.4 1311.7 L1276.5 1309.1 L1279.4 1306.4 L1282.3 1303.5 L1285.0 1300.5 L1273.3 1280.9 L1271.0 1283.5 L1268.5 1286.0 L1266.0 1288.3 L1263.5 1290.4 L1260.8 1292.4 L1258.1 1294.2 L1255.3 1295.9 L1252.4 1297.4 L1249.5 1298.8 L1246.5 1300.0 L1243.5 1301.0 L1240.4 1301.8 L1237.3 1302.5 L1234.2 1303.0 L1231.0 1303.3 L1227.7 1303.5Z" fill="#bfd2d4" stroke="#1f3134" stroke-width="1.1" />
<path d="M1180.8 1013.0 L1175.9 1013.4 L1171.1 1014.2 L1166.4 1015.3 L1161.7 1016.7 L1157.2 1018.4 L1152.8 1020.5 L1148.4 1022.9 L1144.3 1025.6 L1140.2 1028.6 L1136.3 1032.0 L1132.6 1035.6 L1129.0 1039.5 L1136.4 1044.9 L1138.9 1042.3 L1141.6 1039.8 L1144.4 1037.5 L1147.2 1035.3 L1150.1 1033.3 L1153.1 1031.5 L1156.2 1029.8 L1159.3 1028.3 L1162.4 1027.0 L1165.6 1025.9 L1168.9 1024.9 L1172.2 1024.1Z" fill="#9fb0aa" stroke="#1f3134" stroke-width="0.7" />
<path d="M1290.1 1096.7 L1286.3 1089.5 L1282.4 1082.6 L1278.2 1075.9 L1273.8 1069.4 L1269.2 1063.2 L1264.5 1057.4 L1259.6 1051.8 L1254.6 1046.5 L1249.4 1041.6 L1244.1 1037.1 L1238.7 1032.9 L1233.2 1029.1 L1235.6 1037.6 L1239.9 1040.8 L1244.2 1044.3 L1248.4 1048.0 L1252.5 1051.9 L1256.5 1056.1 L1260.4 1060.5 L1264.3 1065.1 L1268.0 1069.8 L1271.6 1074.8 L1275.1 1080.0 L1278.4 1085.3 L1281.6 1090.8Z" fill="#a9b9b5" stroke="#1f3134" stroke-width="0.7" />
<path d="M1129.0 1252.8 L1132.7 1259.1 L1136.5 1265.2 L1140.6 1271.1 L1144.8 1276.8 L1149.1 1282.2 L1153.6 1287.3 L1158.2 1292.2 L1162.9 1296.8 L1167.7 1301.1 L1172.6 1305.1 L1177.6 1308.8 L1182.6 1312.1 L1180.7 1301.0 L1176.6 1298.0 L1172.5 1294.9 L1168.5 1291.5 L1164.6 1287.8 L1160.7 1284.0 L1156.9 1280.0 L1153.2 1275.8 L1149.6 1271.3 L1146.2 1266.7 L1142.8 1262.0 L1139.5 1257.0 L1136.4 1252.0Z" fill="#d3e3e3" stroke="#1f3134" stroke-width="0.7" />
<path d="M1231.4 1327.0 L1236.4 1326.7 L1241.4 1326.1 L1246.3 1325.1 L1251.1 1323.7 L1255.8 1322.0 L1260.4 1319.9 L1264.9 1317.5 L1269.2 1314.8 L1273.4 1311.7 L1277.5 1308.2 L1281.3 1304.5 L1285.0 1300.5 L1277.6 1295.1 L1274.5 1298.3 L1271.2 1301.2 L1267.8 1303.9 L1264.4 1306.4 L1260.8 1308.6 L1257.1 1310.6 L1253.3 1312.3 L1249.4 1313.8 L1245.5 1315.0 L1241.5 1315.9 L1237.4 1316.6 L1233.3 1317.1Z" fill="#cfe0e0" stroke="#1f3134" stroke-width="0.7" />
<path d="M1131.0 1042.1 L1141.8 1039.4 L1144.5 1052.0 L1133.7 1056.5Z" fill="#d7e7e7" stroke="#1f3134" stroke-width="0.8" />
<path d="M1132.3 1248.5 L1143.1 1245.8 L1145.8 1258.4 L1135.0 1262.9Z" fill="#d7e7e7" stroke="#1f3134" stroke-width="0.8" />
<path d="M1228.4 1310.4 L1239.2 1307.7 L1241.9 1320.3 L1231.1 1324.8Z" fill="#d7e7e7" stroke="#1f3134" stroke-width="0.8" />
<ellipse cx="1204.1" cy="1170.8" rx="87.2" ry="134.0" transform="rotate(-14.5 1204.1 1170.8)" fill="#b8cbce" stroke="#1f3134" stroke-width="1.0" />
<path d="M1189.0 1045.2 L1184.4 1045.1 L1179.8 1045.4 L1175.3 1046.1 L1170.9 1047.1 L1166.6 1048.6 L1162.4 1050.3 L1158.3 1052.5 L1154.3 1054.9 L1150.5 1057.8 L1146.9 1060.9 L1143.4 1064.4 L1140.1 1068.2 L1137.0 1072.4 L1134.1 1076.8 L1131.4 1081.4 L1128.9 1086.4 L1126.7 1091.6 L1124.7 1097.0 L1122.9 1102.7 L1121.3 1108.5 L1120.0 1114.6 L1119.0 1120.8 L1118.2 1127.2 L1117.6 1133.7 L1117.4 1140.2 L1117.3 1146.9 L1117.6 1153.7 L1118.1 1160.5 L1118.8 1167.4 L1119.8 1174.2 L1121.0 1181.0 L1122.5 1187.9 L1124.3 1194.6 L1126.3 1201.3 L1128.5 1207.9 L1130.9 1214.4 L1133.6 1220.8 L1136.4 1227.0 L1139.5 1233.0 L1142.7 1238.9 L1146.2 1244.5 L1149.8 1249.9 L1153.5 1255.1 L1157.5 1260.1 L1161.5 1264.8 L1165.7 1269.2 L1170.0 1273.3 L1174.4 1277.1" fill="none" stroke="#5b6e70" stroke-width="0.6" />
<path d="M1018.5 1195.0 V1221.0 A10.2 3.5 0 0 0 1039.0 1221.0 V1195.0 Z" fill="#d3e4e4" stroke="#1f3134" stroke-width="1.1"/>
<ellipse cx="1028.8" cy="1195.0" rx="10.2" ry="3.5" fill="#b9cbcb" stroke="#1f3134" stroke-width="1.1"/>
<path d="M1000.0 1190.0 L1010.0 1184.0 L1040.0 1186.0 L1090.0 1202.0 L1088.0 1208.0 L1067.0 1211.0 L1010.0 1197.0Z" fill="#9db1b4" stroke="#1f3134" stroke-width="1.1" />
<path d="M1000.0 1190.0 L1010.0 1197.0 L1067.0 1211.0 L1067.0 1214.0 L1010.0 1200.5 L1000.0 1193.0Z" fill="#d6e6e6" stroke="#1f3134" stroke-width="0.7" />
<path d="M1016.0 1064.0 V1078.0 A15.4 4.5 0 0 0 1046.7 1078.0 V1064.0 Z" fill="#d3e4e4" stroke="#1f3134" stroke-width="1.1"/>
<ellipse cx="1031.3" cy="1064.0" rx="15.4" ry="4.5" fill="#b9cbcb" stroke="#1f3134" stroke-width="1.1"/>
<path d="M999.8 1049.5 L1012.0 1043.0 L1046.0 1045.0 L1090.6 1066.0 L1090.0 1070.0 L1067.0 1073.0 L1008.6 1057.0Z" fill="#9db1b4" stroke="#1f3134" stroke-width="1.1" />
<path d="M999.8 1049.5 L1008.6 1057.0 L1067.0 1073.0 L1067.0 1076.0 L1008.6 1060.5 L999.8 1052.5Z" fill="#d6e6e6" stroke="#1f3134" stroke-width="0.7" />
<path d="M1016.0 1020.0 V1052.0 A15.4 5.0 0 0 0 1046.7 1052.0 V1020.0 Z" fill="#d3e4e4" stroke="#1f3134" stroke-width="1.1"/>
<ellipse cx="1031.3" cy="1020.0" rx="15.4" ry="5.0" fill="#b9cbcb" stroke="#1f3134" stroke-width="1.1"/>
<path d="M1016.0 1033.4 L1031.0 1038.0 L1046.7 1033.4" fill="none" stroke="#1f3134" stroke-width="0.8" />
<path d="M966.0 1166.0 L1174.0 1219.5 L1186.0 1215.0 L1186.0 1219.0 L1175.0 1224.0 L966.0 1170.5Z" fill="#d6e6e6" stroke="#1f3134" stroke-width="0.8" />
<path d="M970.0 1094.0 L1178.0 1145.0 L1187.0 1164.0 L1185.0 1212.0 L1175.6 1219.5 L970.0 1167.0Z" fill="#b1c6c9" stroke="#1f3134" stroke-width="1.1" />
<path d="M966.0 1091.0 L975.6 1095.0 L976.4 1168.0 L966.0 1166.0Z" fill="#c3d5d6" stroke="#1f3134" stroke-width="0.8" />
<path d="M966.0 1085.0 L1017.0 1068.6 L1046.0 1075.0 L1052.5 1087.6 L1086.0 1098.0 L1209.3 1133.0 L1175.6 1143.3 L966.0 1089.0Z" fill="#9db1b4" stroke="#1f3134" stroke-width="1.1" />
<path d="M966.0 1089.0 L1175.6 1143.3 L1209.3 1133.0 L1210.0 1137.0 L1176.5 1147.5 L966.0 1093.5Z" fill="#d6e6e6" stroke="#1f3134" stroke-width="0.8" />
<path d="M1178.5 1145.5 L1207.8 1135.2 L1218.0 1150.6 L1190.2 1163.0Z" fill="#d6e6e6" stroke="#1f3134" stroke-width="1.1" />
<path d="M1190.2 1163.0 L1218.0 1152.8 L1221.0 1199.0 L1187.3 1212.0Z" fill="#e0efee" stroke="#1f3134" stroke-width="1.1" />
<path d="M1187.3 1212.0 L1207.8 1204.8 L1199.0 1216.5 L1178.5 1221.0Z" fill="#a9b8b5" stroke="#1f3134" stroke-width="1.1" />
<ellipse cx="1163" cy="1180.6" rx="9.5" ry="12.4" fill="#b9ccce" stroke="#1f3134" stroke-width="1.1"/>
<ellipse cx="1161.3" cy="1180.9" rx="8" ry="11" fill="#c4d6d7" stroke="#1f3134" stroke-width="0.7"/>
<path d="M1209.5 1136.6 L1256.4 1148.3 Q1268 1152 1270 1162 V1213.7 Q1269 1223 1258.4 1224.5 L1215.4 1213.7 Z" fill="#b6cacd" stroke="#1f3134" stroke-width="1.1"/>
<path d="M1222 1142.5 L1255 1151 Q1266.5 1154 1267.2 1163 V1212 Q1266 1220 1257.8 1221.4" fill="none" stroke="#1f3134" stroke-width="0.7"/>
<path d="M1270.0 1166.9 L1295.5 1155.2 L1310.0 1166.0 L1313.0 1190.0 L1306.0 1242.0 L1295.5 1241.0 L1271.0 1217.7Z" fill="#b2c6c9" stroke="#1f3134" stroke-width="1.1" />
<circle cx="1275" cy="1173" r="2" fill="#d9e6e6" stroke="#1f3134" stroke-width="0.7"/>
<circle cx="1275.5" cy="1215" r="2" fill="#d9e6e6" stroke="#1f3134" stroke-width="0.7"/>
<path d="M1317.0 1187.0 Q1322.2 1189.2 1317.0 1192.5 Q1322.2 1194.8 1317.0 1198.0 Q1322.1 1200.2 1316.8 1203.5 Q1321.8 1205.8 1316.4 1209.0 Q1321.3 1211.2 1315.7 1214.5 Q1320.5 1216.8 1314.9 1220.0 Q1319.5 1222.2 1313.8 1225.5 Q1318.3 1227.8 1312.5 1231.0 Q1316.9 1233.2 1311.0 1236.5 Q1315.5 1238.8 1309.5 1242.0 L1300.5 1243.0 L1309.0 1187.0 Z" fill="#b5c6c8" stroke="#1d2324" stroke-width="1.3"/>
<ellipse cx="1317.6" cy="1192.0" rx="1.5" ry="1.9" fill="#e9f2f2" stroke="#1d2324" stroke-width="0.6"/>
<ellipse cx="1317.6" cy="1197.5" rx="1.5" ry="1.9" fill="#e9f2f2" stroke="#1d2324" stroke-width="0.6"/>
<ellipse cx="1317.5" cy="1203.0" rx="1.5" ry="1.9" fill="#e9f2f2" stroke="#1d2324" stroke-width="0.6"/>
<ellipse cx="1317.2" cy="1208.5" rx="1.5" ry="1.9" fill="#e9f2f2" stroke="#1d2324" stroke-width="0.6"/>
<ellipse cx="1316.7" cy="1214.0" rx="1.5" ry="1.9" fill="#e9f2f2" stroke="#1d2324" stroke-width="0.6"/>
<ellipse cx="1315.9" cy="1219.5" rx="1.5" ry="1.9" fill="#e9f2f2" stroke="#1d2324" stroke-width="0.6"/>
<ellipse cx="1314.9" cy="1225.0" rx="1.5" ry="1.9" fill="#e9f2f2" stroke="#1d2324" stroke-width="0.6"/>
<ellipse cx="1313.7" cy="1230.5" rx="1.5" ry="1.9" fill="#e9f2f2" stroke="#1d2324" stroke-width="0.6"/>
<ellipse cx="1312.3" cy="1236.0" rx="1.5" ry="1.9" fill="#e9f2f2" stroke="#1d2324" stroke-width="0.6"/>
<ellipse cx="1310.9" cy="1241.5" rx="1.5" ry="1.9" fill="#e9f2f2" stroke="#1d2324" stroke-width="0.6"/>
<g transform="rotate(-13 1342 1168)"><rect x="1336" y="1158.5" width="24" height="20" fill="#d9e8e8" stroke="#1f3134" stroke-width="1"/><ellipse cx="1360" cy="1168.5" rx="3.4" ry="10" fill="#cfe0e0" stroke="#1f3134" stroke-width="1"/></g>
<g transform="rotate(-10 1323.5 1175.2)"><path d="M1341.3 1173.1 L1344.3 1174.0 L1344.3 1176.4 L1341.3 1177.3 L1341.0 1179.4 L1343.7 1181.4 L1343.2 1183.6 L1340.1 1183.5 L1339.4 1185.4 L1341.5 1188.3 L1340.5 1190.2 L1337.5 1189.0 L1336.4 1190.6 L1337.8 1194.1 L1336.4 1195.6 L1333.9 1193.4 L1332.4 1194.5 L1333.0 1198.3 L1331.3 1199.3 L1329.3 1196.3 L1327.7 1196.9 L1327.4 1200.7 L1325.5 1201.1 L1324.4 1197.5 L1322.6 1197.5 L1321.5 1201.1 L1319.6 1200.7 L1319.3 1196.9 L1317.7 1196.3 L1315.7 1199.3 L1314.0 1198.3 L1314.6 1194.5 L1313.1 1193.4 L1310.6 1195.6 L1309.2 1194.1 L1310.6 1190.6 L1309.5 1189.0 L1306.5 1190.2 L1305.5 1188.3 L1307.6 1185.4 L1306.9 1183.5 L1303.8 1183.6 L1303.3 1181.4 L1306.0 1179.4 L1305.7 1177.3 L1302.7 1176.4 L1302.7 1174.0 L1305.7 1173.1 L1306.0 1171.0 L1303.3 1169.0 L1303.8 1166.8 L1306.9 1166.9 L1307.6 1165.0 L1305.5 1162.1 L1306.5 1160.2 L1309.5 1161.4 L1310.6 1159.8 L1309.2 1156.3 L1310.6 1154.8 L1313.1 1157.0 L1314.6 1155.9 L1314.0 1152.1 L1315.7 1151.1 L1317.7 1154.1 L1319.3 1153.5 L1319.6 1149.7 L1321.5 1149.3 L1322.6 1152.9 L1324.4 1152.9 L1325.5 1149.3 L1327.4 1149.7 L1327.7 1153.5 L1329.3 1154.1 L1331.3 1151.1 L1333.0 1152.1 L1332.4 1155.9 L1333.9 1157.0 L1336.4 1154.8 L1337.8 1156.3 L1336.4 1159.8 L1337.5 1161.4 L1340.5 1160.2 L1341.5 1162.1 L1339.4 1165.0 L1340.1 1166.9 L1343.2 1166.8 L1343.7 1169.0 L1341.0 1171.0Z" fill="#b9cbcd" stroke="#1d2324" stroke-width="1.3" /></g>
<ellipse cx="1323.5" cy="1175.2" rx="6" ry="8" fill="#c9dadb" stroke="#1f3134" stroke-width="0.9" transform="rotate(-10 1323.5 1175.2)"/>
<path d="M1213.6 1201.6 L1318.6 1180.2 L1317.4 1174.2 L1212.4 1195.6Z" fill="#dbe9e8" stroke="#1f3134" stroke-width="0.9" />
<path d="M1259.0 1193.2 L1317.0 1181.2 L1315.0 1172.0 L1257.0 1184.0Z" fill="#dbe9e8" stroke="#1f3134" stroke-width="0.9" />
<ellipse cx="1317" cy="1176.5" rx="3.2" ry="4.8" fill="#e3efee" stroke="#1f3134" stroke-width="0.8" transform="rotate(-10 1317 1176.5)"/>
<path d="M1213.4 1185.0 L1295.9 1205.2 L1297.1 1200.4 L1214.6 1180.2Z" fill="#dbe9e8" stroke="#1f3134" stroke-width="0.9" />
<ellipse cx="1255.4" cy="1189.6" rx="4.6" ry="6.4" fill="#8fa3a6" stroke="#1f3134" stroke-width="0.9" transform="rotate(-10 1255.4 1189.6)"/>
<ellipse cx="1297" cy="1203" rx="2.6" ry="3.1" fill="#f2f8f8" stroke="#1d2324" stroke-width="1.2"/>
<ellipse cx="1214" cy="1182.4" rx="1.6" ry="2.6" fill="#222"/>
<path d="M1206.8 1142.5 L1206.8 1255.7 L1213.2 1255.7 L1213.2 1142.5Z" fill="#dceaea" stroke="#1f3134" stroke-width="0.9" />
<ellipse cx="1210" cy="1143" rx="3.2" ry="1.3" fill="#222"/>
<ellipse cx="1210" cy="1255.7" rx="3.2" ry="1.2" fill="#9aa" stroke="#1f3134" stroke-width="0.6"/>
<path d="M1263.0 1012.0 L1272.0 1016.0 L1330.0 1001.0 L1320.0 997.5Z" fill="#c2d3d4" stroke="#1f3134" stroke-width="0.8" />
<path d="M1270.8 1006.0 V976.1 A23.5 24.6 0 0 1 1317.7 973.1 V1001.4 Z" fill="#dcebea" stroke="#1f3134" stroke-width="1"/>
<path d="M1273.0 1006.6 V977.1 A22.0 23.6 0 0 1 1297.2 953.3" fill="none" stroke="#1f3134" stroke-width="0.7"/>
<ellipse cx="1296.9" cy="979.4" rx="9.6" ry="12.0" transform="rotate(-10 1296.9 979.4)" fill="#ffffff" stroke="#1f3134" stroke-width="1"/>
<path d="M1541.0 947.5 L1560.0 953.8 L1610.0 940.0 L1597.5 935.0Z" fill="#c2d3d4" stroke="#1f3134" stroke-width="0.8" />
<path d="M1552.5 949.0 V906.8 A23.1 24.3 0 0 1 1598.8 903.8 V935.0 Z" fill="#dcebea" stroke="#1f3134" stroke-width="1"/>
<path d="M1554.7 949.6 V907.8 A21.6 23.3 0 0 1 1578.6 884.3" fill="none" stroke="#1f3134" stroke-width="0.7"/>
<ellipse cx="1576.2" cy="908.8" rx="8.5" ry="11.0" transform="rotate(-10 1576.2 908.8)" fill="#ffffff" stroke="#1f3134" stroke-width="1"/>
<rect x="1364.3" y="968" width="8.8" height="40" fill="#dbe9e8" stroke="#1f3134" stroke-width="0.9"/>
<ellipse cx="1368.7" cy="1008" rx="4.4" ry="1.6" fill="#dbe9e8" stroke="#1f3134" stroke-width="0.9"/>
<rect x="1365" y="963" width="7.6" height="6" fill="#2c3334"/>
<path d="M1353.8 960.0 a15.0 3.8 0 0 0 30.0 0 v4.2 a15.0 3.8 0 0 1 -30.0 0z" fill="#5d696a" stroke="#222" stroke-width="0.8"/>
<ellipse cx="1368.8" cy="960.0" rx="15.0" ry="3.8" fill="#cfdcdc" stroke="#222" stroke-width="0.8"/>
<path d="M1353.8 953.5 a15.0 3.8 0 0 0 30.0 0 v3.6 a15.0 3.8 0 0 1 -30.0 0z" fill="#454f50" stroke="#222" stroke-width="0.8"/>
<ellipse cx="1368.8" cy="953.5" rx="15.0" ry="3.8" fill="#7c898a" stroke="#222" stroke-width="0.8"/>
<rect x="1358.5" y="941" width="20.6" height="11" fill="#5f6b6c" stroke="#222" stroke-width="0.7"/>
<path d="M1355 950 a4 4 0 0 1 6 -6 M1382.6 950 a4 4 0 0 0 -6 -6" fill="#394142" stroke="#181c1c" stroke-width="0.8"/>
<rect x="1362" y="936" width="13.6" height="6" fill="#dfe9e9" stroke="#222" stroke-width="0.6"/>
<path d="M1353.8 931.5 a15.0 3.8 0 0 0 30.0 0 v4.2 a15.0 3.8 0 0 1 -30.0 0z" fill="#5d696a" stroke="#222" stroke-width="0.8"/>
<ellipse cx="1368.8" cy="931.5" rx="15.0" ry="3.8" fill="#d3dfdf" stroke="#222" stroke-width="0.8"/>
<path d="M1353.8 925.6 a15.0 3.8 0 0 0 30.0 0 v3.4 a15.0 3.8 0 0 1 -30.0 0z" fill="#454f50" stroke="#222" stroke-width="0.8"/>
<ellipse cx="1368.8" cy="925.6" rx="15.0" ry="3.8" fill="#6f7c7d" stroke="#222" stroke-width="0.8"/>
<path d="M1355 925 a4 4 0 0 1 6 -6 M1382.6 925 a4 4 0 0 0 -6 -6" fill="#394142" stroke="#181c1c" stroke-width="0.8"/>
<rect x="1360" y="914" width="17.6" height="9" fill="#4e595a" stroke="#222" stroke-width="0.7"/>
<path d="M1353.4 919.6 a15.4 3.9 0 0 0 30.8 0 v3.2 a15.4 3.9 0 0 1 -30.8 0z" fill="#59656a" stroke="#222" stroke-width="0.8"/>
<ellipse cx="1368.8" cy="919.6" rx="15.4" ry="3.9" fill="#c9d6d6" stroke="#222" stroke-width="0.8"/>
<path d="M1354.2 915.4 a14.6 3.8 0 0 0 29.2 0 v2.8 a14.6 3.8 0 0 1 -29.2 0z" fill="#353d3e" stroke="#222" stroke-width="0.8"/>
<ellipse cx="1368.8" cy="915.4" rx="14.6" ry="3.8" fill="#4a5556" stroke="#222" stroke-width="0.8"/>
<ellipse cx="1368.8" cy="915.2" rx="7" ry="1.8" fill="#1e2323"/>
<rect x="1393.6" y="958" width="7.6" height="20" fill="#dbe9e8" stroke="#1f3134" stroke-width="0.9"/>
<rect x="1394.6" y="954.5" width="5.6" height="4" fill="#222"/>
<path d="M1388.4 948.5 a9.0 2.6 0 0 0 18.0 0 v3.0 a9.0 2.6 0 0 1 -18.0 0z" fill="#cfdcdc" stroke="#333" stroke-width="0.8"/>
<ellipse cx="1397.4" cy="948.5" rx="9.0" ry="2.6" fill="#f1f6f6" stroke="#333" stroke-width="0.8"/>
<path d="M1388.4 945.2 a9.0 2.6 0 0 0 18.0 0 v2.6 a9.0 2.6 0 0 1 -18.0 0z" fill="#5d696a" stroke="#333" stroke-width="0.8"/>
<ellipse cx="1397.4" cy="945.2" rx="9.0" ry="2.6" fill="#8a9798" stroke="#333" stroke-width="0.8"/>
<rect x="1394.2" y="929" width="6.4" height="15" fill="#3a3a30" stroke="#222" stroke-width="0.6"/>
<rect x="1390.6" y="930.5" width="6.4" height="10.5" rx="1.5" fill="#a08a45" stroke="#2a2410" stroke-width="0.8"/>
<ellipse cx="1400.6" cy="934.5" rx="3" ry="3.6" fill="#2b2b22"/>
<path d="M1386.5 926.5 L1391.6 919.5 L1395.6 921.8 L1390.2 930 Z" fill="#6d797b" stroke="#2a3132" stroke-width="0.7"/>
<ellipse cx="1399.5" cy="904.5" rx="14.5" ry="17.6" transform="rotate(-14 1399.5 904.5)" fill="#d8dcdc" stroke="#2b3132" stroke-width="1.7"/>
<ellipse cx="1394.5" cy="906.5" rx="14.6" ry="17.8" transform="rotate(-14 1394.5 906.5)" fill="#ffffff" stroke="#2b3132" stroke-width="1.9"/>
<path d="M1390.2 902.5 h5.4 v19 h-5.4z" fill="#6a7678" stroke="#2a3132" stroke-width="0.6"/>
<ellipse cx="1392.9" cy="902.6" rx="2.7" ry="1.1" fill="#3b4445"/>
<rect x="1901.6" y="898" width="7" height="21" fill="#dbe9e8" stroke="#1f3134" stroke-width="0.9"/>
<path d="M1896.4 889.5 a8.6 2.5 0 0 0 17.2 0 v3.0 a8.6 2.5 0 0 1 -17.2 0z" fill="#cfdcdc" stroke="#333" stroke-width="0.8"/>
<ellipse cx="1905.0" cy="889.5" rx="8.6" ry="2.5" fill="#f1f6f6" stroke="#333" stroke-width="0.8"/>
<path d="M1896.4 886.0 a8.6 2.5 0 0 0 17.2 0 v2.8 a8.6 2.5 0 0 1 -17.2 0z" fill="#5d696a" stroke="#333" stroke-width="0.8"/>
<ellipse cx="1905.0" cy="886.0" rx="8.6" ry="2.5" fill="#8a9798" stroke="#333" stroke-width="0.8"/>
<rect x="1902" y="863" width="6.4" height="22" fill="#3a3a30" stroke="#222" stroke-width="0.6"/>
<rect x="1899.4" y="867.5" width="7" height="10" rx="1.5" fill="#a08a45" stroke="#2a2410" stroke-width="0.8"/>
<ellipse cx="1909" cy="872" rx="2.8" ry="3.4" fill="#2b2b22"/>
<ellipse cx="1901.6" cy="845" rx="15" ry="17.6" fill="#8d9596" stroke="#2b3132" stroke-width="1.1"/>
<ellipse cx="1905.6" cy="843.8" rx="14.6" ry="17.2" fill="#bbb5af" stroke="#2b3132" stroke-width="1.1"/>
<path d="M1956.8 1009.7 L1973.8 1016.7 L1977.2 1008.3 L1960.2 1001.3Z" fill="#cfe0e0" stroke="#1f3134" stroke-width="0.9" />
<ellipse cx="1976.3" cy="1013.2" rx="3.8" ry="4.6" fill="#222" stroke="#111" stroke-width="0.6"/>
<ellipse cx="1977" cy="1013.5" rx="1.5" ry="1.9" fill="#dde"/>
</g>
</svg>
</body></html>
